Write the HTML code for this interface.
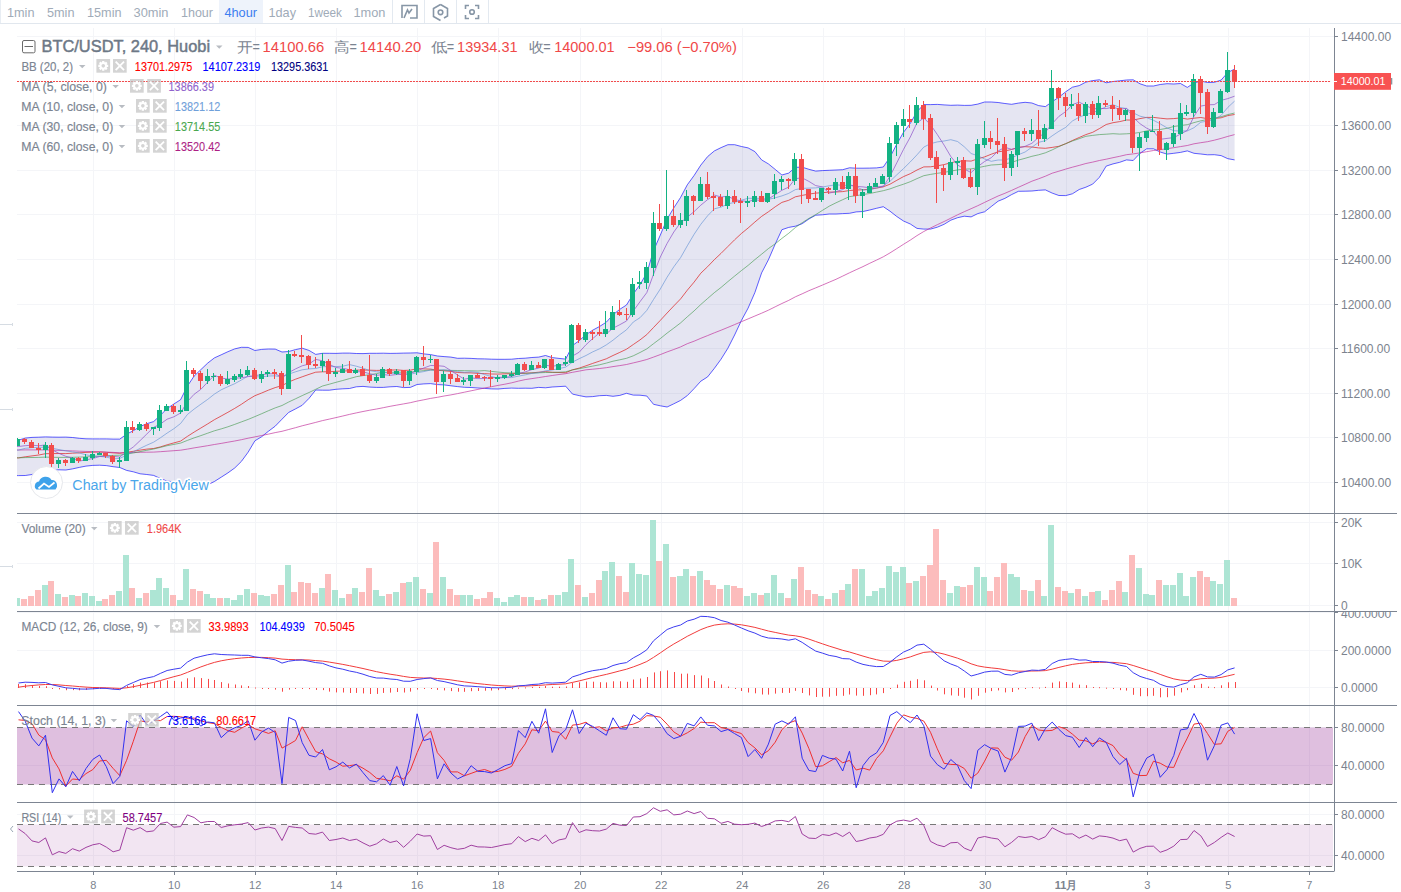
<!DOCTYPE html><html><head><meta charset="utf-8"><style>
html,body{margin:0;padding:0;background:#fff;width:1401px;height:892px;overflow:hidden}
svg{position:absolute;left:0;top:0}
text{font-family:"Liberation Sans",sans-serif}
</style></head><body>
<svg width="1401" height="892" viewBox="0 0 1401 892" shape-rendering="auto">

<rect x="219" y="0" width="44" height="23" fill="#eef3fb"/>
<line x1="0" y1="23.5" x2="1401" y2="23.5" stroke="#e1e7ee" stroke-width="1"/>
<line x1="0.5" y1="0" x2="0.5" y2="23" stroke="#e8edf3" stroke-width="1"/>
<text x="7.00" y="17" font-size="13" fill="#a0abb8" font-weight="400" textLength="27.50" lengthAdjust="spacingAndGlyphs">1min</text>
<text x="47.00" y="17" font-size="13" fill="#a0abb8" font-weight="400" textLength="27.50" lengthAdjust="spacingAndGlyphs">5min</text>
<text x="87.00" y="17" font-size="13" fill="#a0abb8" font-weight="400" textLength="34.50" lengthAdjust="spacingAndGlyphs">15min</text>
<text x="133.50" y="17" font-size="13" fill="#a0abb8" font-weight="400" textLength="35.00" lengthAdjust="spacingAndGlyphs">30min</text>
<text x="181.00" y="17" font-size="13" fill="#a0abb8" font-weight="400" textLength="32.00" lengthAdjust="spacingAndGlyphs">1hour</text>
<text x="224.40" y="17" font-size="13" fill="#3d7ef0" font-weight="400" textLength="32.60" lengthAdjust="spacingAndGlyphs">4hour</text>
<text x="268.50" y="17" font-size="13" fill="#a0abb8" font-weight="400" textLength="27.50" lengthAdjust="spacingAndGlyphs">1day</text>
<text x="308.00" y="17" font-size="13" fill="#a0abb8" font-weight="400" textLength="34.00" lengthAdjust="spacingAndGlyphs">1week</text>
<text x="353.40" y="17" font-size="13" fill="#a0abb8" font-weight="400" textLength="32.00" lengthAdjust="spacingAndGlyphs">1mon</text>
<line x1="392.5" y1="0" x2="392.5" y2="23" stroke="#e3e9f0"/>
<line x1="424.5" y1="0" x2="424.5" y2="23" stroke="#e3e9f0"/>
<line x1="456.5" y1="0" x2="456.5" y2="23" stroke="#e3e9f0"/>
<line x1="488.5" y1="0" x2="488.5" y2="23" stroke="#e3e9f0"/>
<path d="M402 18 V5.5 H417 V18 H410" fill="none" stroke="#8796a6" stroke-width="1.6"/>
<path d="M404 18 L407.5 10 L409 13 L412 9" fill="none" stroke="#8796a6" stroke-width="1.6"/>
<path d="M440.5 4.5 L447.5 8.5 V16 L444 18 M440.5 20.5 L433.5 16.5 V8.5 L440.5 4.5" fill="none" stroke="#8796a6" stroke-width="1.6"/>
<circle cx="440.5" cy="12.3" r="2.3" fill="none" stroke="#8796a6" stroke-width="1.6"/>
<path d="M465.5 9 V5.5 H469 M475 5.5 H478.5 V9 M478.5 15 V18.5 H475 M469 18.5 H465.5 V15" fill="none" stroke="#8796a6" stroke-width="1.6"/>
<circle cx="472" cy="12" r="2.3" fill="none" stroke="#8796a6" stroke-width="1.6"/>
<g stroke="#f4f5f8" stroke-width="1">
<line x1="93.5" y1="28" x2="93.5" y2="871"/>
<line x1="174.5" y1="28" x2="174.5" y2="871"/>
<line x1="255.5" y1="28" x2="255.5" y2="871"/>
<line x1="336.5" y1="28" x2="336.5" y2="871"/>
<line x1="417.5" y1="28" x2="417.5" y2="871"/>
<line x1="498.5" y1="28" x2="498.5" y2="871"/>
<line x1="580.5" y1="28" x2="580.5" y2="871"/>
<line x1="661.5" y1="28" x2="661.5" y2="871"/>
<line x1="742.5" y1="28" x2="742.5" y2="871"/>
<line x1="823.5" y1="28" x2="823.5" y2="871"/>
<line x1="904.5" y1="28" x2="904.5" y2="871"/>
<line x1="985.5" y1="28" x2="985.5" y2="871"/>
<line x1="1066.5" y1="28" x2="1066.5" y2="871"/>
<line x1="1147.5" y1="28" x2="1147.5" y2="871"/>
<line x1="1228.5" y1="28" x2="1228.5" y2="871"/>
<line x1="1309.5" y1="28" x2="1309.5" y2="871"/>
<line x1="17" y1="482.5" x2="1334" y2="482.5"/>
<line x1="17" y1="437.5" x2="1334" y2="437.5"/>
<line x1="17" y1="393.5" x2="1334" y2="393.5"/>
<line x1="17" y1="348.5" x2="1334" y2="348.5"/>
<line x1="17" y1="304.5" x2="1334" y2="304.5"/>
<line x1="17" y1="259.5" x2="1334" y2="259.5"/>
<line x1="17" y1="214.5" x2="1334" y2="214.5"/>
<line x1="17" y1="170.5" x2="1334" y2="170.5"/>
<line x1="17" y1="125.5" x2="1334" y2="125.5"/>
<line x1="17" y1="81.5" x2="1334" y2="81.5"/>
<line x1="17" y1="36.5" x2="1334" y2="36.5"/>
<line x1="17" y1="522.5" x2="1334" y2="522.5"/>
<line x1="17" y1="563.5" x2="1334" y2="563.5"/>
<line x1="17" y1="605.5" x2="1334" y2="605.5"/>
<line x1="17" y1="612.5" x2="1334" y2="612.5"/>
<line x1="17" y1="650.5" x2="1334" y2="650.5"/>
<line x1="17" y1="687.5" x2="1334" y2="687.5"/>
<line x1="17" y1="727.5" x2="1334" y2="727.5"/>
<line x1="17" y1="765.5" x2="1334" y2="765.5"/>
<line x1="17" y1="814.5" x2="1334" y2="814.5"/>
<line x1="17" y1="855.5" x2="1334" y2="855.5"/>
</g>
<defs><clipPath id="cp"><rect x="17" y="28" width="1317" height="843"/></clipPath></defs>
<g clip-path="url(#cp)">
<polygon points="17.0,440.2 18.5,440.2 25.2,438.1 32.0,437.4 38.8,437.2 45.5,436.9 52.3,437.1 59.0,437.2 65.8,437.1 72.5,437.5 79.3,438.3 86.0,438.8 92.8,438.9 99.6,438.9 106.3,438.9 113.1,439.1 119.8,439.1 126.6,434.2 133.3,430.7 140.1,426.5 146.8,423.7 153.6,421.6 160.4,415.3 167.1,408.5 173.9,404.0 180.6,399.7 187.4,386.1 194.1,376.1 200.9,369.6 207.7,363.1 214.4,357.9 221.2,354.8 227.9,351.7 234.7,348.9 241.4,347.3 248.2,347.4 254.9,350.5 261.7,349.4 268.5,349.0 275.2,349.1 282.0,352.0 288.7,351.5 295.5,349.6 302.2,348.2 309.0,350.4 315.7,354.4 322.5,353.3 329.3,353.3 336.0,353.4 342.8,353.1 349.5,353.1 356.3,353.5 363.0,353.6 369.8,353.3 376.6,353.3 383.3,353.2 390.1,353.4 396.8,353.3 403.6,353.1 410.3,353.0 417.1,352.8 423.8,353.9 430.6,354.6 437.4,356.0 444.1,356.6 450.9,357.1 457.6,358.3 464.4,358.2 471.1,358.4 477.9,358.8 484.6,358.9 491.4,359.2 498.2,359.3 504.9,359.3 511.7,359.2 518.4,358.5 525.2,358.2 531.9,357.5 538.7,357.1 545.5,355.5 552.2,357.6 559.0,358.4 565.7,359.1 572.5,345.5 579.2,340.7 586.0,334.7 592.7,330.2 599.5,326.5 606.3,322.2 613.0,314.8 619.8,309.3 626.5,305.0 633.3,293.9 640.0,284.6 646.8,273.1 653.5,250.7 660.3,235.1 667.1,219.0 673.8,207.9 680.6,197.4 687.3,184.8 694.1,175.5 700.8,165.1 707.6,156.6 714.4,150.9 721.1,147.6 727.9,144.7 734.6,144.7 741.4,146.5 748.1,147.9 754.9,151.6 761.6,159.9 768.4,163.9 775.2,169.4 781.9,175.0 788.7,173.1 795.4,167.3 802.2,167.2 808.9,169.3 815.7,171.1 822.4,170.6 829.2,170.3 836.0,170.0 842.7,169.7 849.5,167.8 856.2,168.2 863.0,168.2 869.7,168.1 876.5,167.9 883.3,167.0 890.0,157.1 896.8,144.1 903.5,132.3 910.3,123.4 917.0,111.6 923.8,104.6 930.5,104.6 937.3,104.4 944.1,104.9 950.8,105.3 957.6,105.1 964.3,105.4 971.1,105.3 977.8,104.1 984.6,102.0 991.3,102.0 998.1,102.5 1004.9,103.5 1011.6,104.3 1018.4,103.1 1025.1,102.3 1031.9,103.0 1038.6,105.6 1045.4,106.6 1052.2,101.7 1058.9,97.2 1065.7,91.8 1072.4,87.2 1079.2,85.6 1085.9,82.1 1092.7,80.6 1099.4,79.8 1106.2,82.8 1113.0,81.5 1119.7,80.8 1126.5,80.0 1133.2,79.8 1140.0,83.8 1146.7,86.0 1153.5,86.0 1160.2,84.5 1167.0,83.7 1173.8,84.0 1180.5,83.5 1187.3,87.4 1194.0,83.0 1200.8,81.0 1207.5,82.5 1214.3,82.3 1221.1,80.1 1227.8,72.5 1234.6,69.1 1234.6,159.9 1227.8,158.7 1221.1,155.6 1214.3,154.7 1207.5,154.8 1200.8,154.0 1194.0,153.3 1187.3,150.9 1180.5,152.4 1173.8,153.3 1167.0,154.1 1160.2,152.0 1153.5,148.8 1146.7,148.8 1140.0,153.3 1133.2,160.5 1126.5,159.9 1119.7,162.3 1113.0,163.9 1106.2,166.1 1099.4,177.3 1092.7,184.1 1085.9,187.2 1079.2,189.5 1072.4,193.8 1065.7,195.6 1058.9,195.5 1052.2,193.1 1045.4,189.9 1038.6,190.3 1031.9,191.0 1025.1,191.2 1018.4,191.3 1011.6,194.6 1004.9,198.4 998.1,201.2 991.3,206.5 984.6,211.8 977.8,213.6 971.1,216.9 964.3,216.2 957.6,217.7 950.8,220.2 944.1,224.3 937.3,227.2 930.5,229.1 923.8,229.1 917.0,228.4 910.3,224.0 903.5,221.0 896.8,216.5 890.0,211.2 883.3,206.7 876.5,208.3 869.7,210.0 863.0,211.5 856.2,211.9 849.5,213.3 842.7,213.6 836.0,214.0 829.2,214.0 822.4,214.8 815.7,215.2 808.9,219.0 802.2,223.7 795.4,226.2 788.7,227.4 781.9,229.7 775.2,244.1 768.4,259.8 761.6,272.9 754.9,292.5 748.1,308.1 741.4,320.5 734.6,335.0 727.9,348.2 721.1,359.1 714.4,368.3 707.6,376.9 700.8,381.2 694.1,388.6 687.3,395.6 680.6,400.4 673.8,403.8 667.1,407.0 660.3,405.8 653.5,404.3 646.8,396.0 640.0,395.2 633.3,395.1 626.5,393.3 619.8,395.4 613.0,396.3 606.3,395.4 599.5,395.7 592.7,396.6 586.0,396.9 579.2,395.6 572.5,394.1 565.7,386.2 559.0,386.6 552.2,387.0 545.5,387.8 538.7,387.4 531.9,388.3 525.2,388.2 518.4,388.3 511.7,388.1 504.9,388.4 498.2,389.0 491.4,388.9 484.6,388.4 477.9,388.0 471.1,387.5 464.4,387.3 457.6,386.6 450.9,385.8 444.1,384.9 437.4,384.6 430.6,383.6 423.8,383.9 417.1,384.5 410.3,387.4 403.6,387.6 396.8,386.5 390.1,386.8 383.3,387.4 376.6,387.4 369.8,387.1 363.0,386.4 356.3,386.8 349.5,388.5 342.8,388.8 336.0,389.3 329.3,390.2 322.5,390.2 315.7,390.0 309.0,398.4 302.2,405.3 295.5,408.9 288.7,412.4 282.0,419.2 275.2,426.2 268.5,431.2 261.7,436.7 254.9,440.8 248.2,452.1 241.4,461.4 234.7,468.0 227.9,472.9 221.2,477.2 214.4,481.5 207.7,484.8 200.9,486.4 194.1,488.2 187.4,486.8 180.6,482.5 173.9,481.8 167.1,481.1 160.4,478.5 153.6,475.4 146.8,474.5 140.1,473.8 133.3,471.8 126.6,470.4 119.8,467.5 113.1,466.7 106.3,465.6 99.6,465.2 92.8,465.4 86.0,466.1 79.3,467.4 72.5,468.9 65.8,470.0 59.0,469.8 52.3,470.2 45.5,470.6 38.8,472.8 32.0,474.5 25.2,475.5 18.5,475.6 17.0,475.6" fill="rgba(0,0,128,0.1)" stroke="none"/>
<polyline points="17.0,440.2 18.5,440.2 25.2,438.1 32.0,437.4 38.8,437.2 45.5,436.9 52.3,437.1 59.0,437.2 65.8,437.1 72.5,437.5 79.3,438.3 86.0,438.8 92.8,438.9 99.6,438.9 106.3,438.9 113.1,439.1 119.8,439.1 126.6,434.2 133.3,430.7 140.1,426.5 146.8,423.7 153.6,421.6 160.4,415.3 167.1,408.5 173.9,404.0 180.6,399.7 187.4,386.1 194.1,376.1 200.9,369.6 207.7,363.1 214.4,357.9 221.2,354.8 227.9,351.7 234.7,348.9 241.4,347.3 248.2,347.4 254.9,350.5 261.7,349.4 268.5,349.0 275.2,349.1 282.0,352.0 288.7,351.5 295.5,349.6 302.2,348.2 309.0,350.4 315.7,354.4 322.5,353.3 329.3,353.3 336.0,353.4 342.8,353.1 349.5,353.1 356.3,353.5 363.0,353.6 369.8,353.3 376.6,353.3 383.3,353.2 390.1,353.4 396.8,353.3 403.6,353.1 410.3,353.0 417.1,352.8 423.8,353.9 430.6,354.6 437.4,356.0 444.1,356.6 450.9,357.1 457.6,358.3 464.4,358.2 471.1,358.4 477.9,358.8 484.6,358.9 491.4,359.2 498.2,359.3 504.9,359.3 511.7,359.2 518.4,358.5 525.2,358.2 531.9,357.5 538.7,357.1 545.5,355.5 552.2,357.6 559.0,358.4 565.7,359.1 572.5,345.5 579.2,340.7 586.0,334.7 592.7,330.2 599.5,326.5 606.3,322.2 613.0,314.8 619.8,309.3 626.5,305.0 633.3,293.9 640.0,284.6 646.8,273.1 653.5,250.7 660.3,235.1 667.1,219.0 673.8,207.9 680.6,197.4 687.3,184.8 694.1,175.5 700.8,165.1 707.6,156.6 714.4,150.9 721.1,147.6 727.9,144.7 734.6,144.7 741.4,146.5 748.1,147.9 754.9,151.6 761.6,159.9 768.4,163.9 775.2,169.4 781.9,175.0 788.7,173.1 795.4,167.3 802.2,167.2 808.9,169.3 815.7,171.1 822.4,170.6 829.2,170.3 836.0,170.0 842.7,169.7 849.5,167.8 856.2,168.2 863.0,168.2 869.7,168.1 876.5,167.9 883.3,167.0 890.0,157.1 896.8,144.1 903.5,132.3 910.3,123.4 917.0,111.6 923.8,104.6 930.5,104.6 937.3,104.4 944.1,104.9 950.8,105.3 957.6,105.1 964.3,105.4 971.1,105.3 977.8,104.1 984.6,102.0 991.3,102.0 998.1,102.5 1004.9,103.5 1011.6,104.3 1018.4,103.1 1025.1,102.3 1031.9,103.0 1038.6,105.6 1045.4,106.6 1052.2,101.7 1058.9,97.2 1065.7,91.8 1072.4,87.2 1079.2,85.6 1085.9,82.1 1092.7,80.6 1099.4,79.8 1106.2,82.8 1113.0,81.5 1119.7,80.8 1126.5,80.0 1133.2,79.8 1140.0,83.8 1146.7,86.0 1153.5,86.0 1160.2,84.5 1167.0,83.7 1173.8,84.0 1180.5,83.5 1187.3,87.4 1194.0,83.0 1200.8,81.0 1207.5,82.5 1214.3,82.3 1221.1,80.1 1227.8,72.5 1234.6,69.1" fill="none" stroke="rgba(0,0,255,0.62)" stroke-width="1" stroke-linejoin="round" />
<polyline points="17.0,475.6 18.5,475.6 25.2,475.5 32.0,474.5 38.8,472.8 45.5,470.6 52.3,470.2 59.0,469.8 65.8,470.0 72.5,468.9 79.3,467.4 86.0,466.1 92.8,465.4 99.6,465.2 106.3,465.6 113.1,466.7 119.8,467.5 126.6,470.4 133.3,471.8 140.1,473.8 146.8,474.5 153.6,475.4 160.4,478.5 167.1,481.1 173.9,481.8 180.6,482.5 187.4,486.8 194.1,488.2 200.9,486.4 207.7,484.8 214.4,481.5 221.2,477.2 227.9,472.9 234.7,468.0 241.4,461.4 248.2,452.1 254.9,440.8 261.7,436.7 268.5,431.2 275.2,426.2 282.0,419.2 288.7,412.4 295.5,408.9 302.2,405.3 309.0,398.4 315.7,390.0 322.5,390.2 329.3,390.2 336.0,389.3 342.8,388.8 349.5,388.5 356.3,386.8 363.0,386.4 369.8,387.1 376.6,387.4 383.3,387.4 390.1,386.8 396.8,386.5 403.6,387.6 410.3,387.4 417.1,384.5 423.8,383.9 430.6,383.6 437.4,384.6 444.1,384.9 450.9,385.8 457.6,386.6 464.4,387.3 471.1,387.5 477.9,388.0 484.6,388.4 491.4,388.9 498.2,389.0 504.9,388.4 511.7,388.1 518.4,388.3 525.2,388.2 531.9,388.3 538.7,387.4 545.5,387.8 552.2,387.0 559.0,386.6 565.7,386.2 572.5,394.1 579.2,395.6 586.0,396.9 592.7,396.6 599.5,395.7 606.3,395.4 613.0,396.3 619.8,395.4 626.5,393.3 633.3,395.1 640.0,395.2 646.8,396.0 653.5,404.3 660.3,405.8 667.1,407.0 673.8,403.8 680.6,400.4 687.3,395.6 694.1,388.6 700.8,381.2 707.6,376.9 714.4,368.3 721.1,359.1 727.9,348.2 734.6,335.0 741.4,320.5 748.1,308.1 754.9,292.5 761.6,272.9 768.4,259.8 775.2,244.1 781.9,229.7 788.7,227.4 795.4,226.2 802.2,223.7 808.9,219.0 815.7,215.2 822.4,214.8 829.2,214.0 836.0,214.0 842.7,213.6 849.5,213.3 856.2,211.9 863.0,211.5 869.7,210.0 876.5,208.3 883.3,206.7 890.0,211.2 896.8,216.5 903.5,221.0 910.3,224.0 917.0,228.4 923.8,229.1 930.5,229.1 937.3,227.2 944.1,224.3 950.8,220.2 957.6,217.7 964.3,216.2 971.1,216.9 977.8,213.6 984.6,211.8 991.3,206.5 998.1,201.2 1004.9,198.4 1011.6,194.6 1018.4,191.3 1025.1,191.2 1031.9,191.0 1038.6,190.3 1045.4,189.9 1052.2,193.1 1058.9,195.5 1065.7,195.6 1072.4,193.8 1079.2,189.5 1085.9,187.2 1092.7,184.1 1099.4,177.3 1106.2,166.1 1113.0,163.9 1119.7,162.3 1126.5,159.9 1133.2,160.5 1140.0,153.3 1146.7,148.8 1153.5,148.8 1160.2,152.0 1167.0,154.1 1173.8,153.3 1180.5,152.4 1187.3,150.9 1194.0,153.3 1200.8,154.0 1207.5,154.8 1214.3,154.7 1221.1,155.6 1227.8,158.7 1234.6,159.9" fill="none" stroke="rgba(0,0,255,0.62)" stroke-width="1" stroke-linejoin="round" />
<polyline points="17.0,457.9 18.5,457.9 25.2,456.8 32.0,455.9 38.8,455.0 45.5,453.7 52.3,453.6 59.0,453.5 65.8,453.6 72.5,453.2 79.3,452.8 86.0,452.4 92.8,452.2 99.6,452.0 106.3,452.3 113.1,452.9 119.8,453.3 126.6,452.3 133.3,451.3 140.1,450.1 146.8,449.1 153.6,448.5 160.4,446.9 167.1,444.8 173.9,442.9 180.6,441.1 187.4,436.4 194.1,432.1 200.9,428.0 207.7,423.9 214.4,419.7 221.2,416.0 227.9,412.3 234.7,408.4 241.4,404.3 248.2,399.7 254.9,395.7 261.7,393.0 268.5,390.1 275.2,387.6 282.0,385.6 288.7,382.0 295.5,379.2 302.2,376.8 309.0,374.4 315.7,372.2 322.5,371.8 329.3,371.8 336.0,371.3 342.8,371.0 349.5,370.8 356.3,370.1 363.0,370.0 369.8,370.2 376.6,370.4 383.3,370.3 390.1,370.1 396.8,369.9 403.6,370.4 410.3,370.2 417.1,368.6 423.8,368.9 430.6,369.1 437.4,370.3 444.1,370.8 450.9,371.4 457.6,372.5 464.4,372.8 471.1,372.9 477.9,373.4 484.6,373.6 491.4,374.0 498.2,374.1 504.9,373.8 511.7,373.7 518.4,373.4 525.2,373.2 531.9,372.9 538.7,372.2 545.5,371.6 552.2,372.3 559.0,372.5 565.7,372.7 572.5,369.8 579.2,368.1 586.0,365.8 592.7,363.4 599.5,361.1 606.3,358.8 613.0,355.5 619.8,352.4 626.5,349.2 633.3,344.5 640.0,339.9 646.8,334.6 653.5,327.5 660.3,320.4 667.1,313.0 673.8,305.9 680.6,298.9 687.3,290.2 694.1,282.1 700.8,273.2 707.6,266.7 714.4,259.6 721.1,253.3 727.9,246.5 734.6,239.8 741.4,233.5 748.1,228.0 754.9,222.0 761.6,216.4 768.4,211.8 775.2,206.8 781.9,202.4 788.7,200.3 795.4,196.8 802.2,195.4 808.9,194.1 815.7,193.1 822.4,192.7 829.2,192.1 836.0,192.0 842.7,191.6 849.5,190.5 856.2,190.0 863.0,189.8 869.7,189.1 876.5,188.1 883.3,186.8 890.0,184.2 896.8,180.3 903.5,176.6 910.3,173.7 917.0,170.0 923.8,166.9 930.5,166.8 937.3,165.8 944.1,164.6 950.8,162.7 957.6,161.4 964.3,160.8 971.1,161.1 977.8,158.8 984.6,156.9 991.3,154.2 998.1,151.8 1004.9,150.9 1011.6,149.5 1018.4,147.2 1025.1,146.7 1031.9,147.0 1038.6,147.9 1045.4,148.3 1052.2,147.4 1058.9,146.3 1065.7,143.7 1072.4,140.5 1079.2,137.5 1085.9,134.6 1092.7,132.3 1099.4,128.6 1106.2,124.5 1113.0,122.7 1119.7,121.6 1126.5,120.0 1133.2,120.1 1140.0,118.6 1146.7,117.4 1153.5,117.4 1160.2,118.2 1167.0,118.9 1173.8,118.6 1180.5,117.9 1187.3,119.1 1194.0,118.2 1200.8,117.5 1207.5,118.7 1214.3,118.5 1221.1,117.8 1227.8,115.6 1234.6,114.5" fill="none" stroke="rgba(220,30,30,0.7)" stroke-width="1" stroke-linejoin="round" />
<polyline points="17.0,450.0 18.5,450.0 25.2,449.9 32.0,449.9 38.8,449.9 45.5,449.9 52.3,450.2 59.0,450.4 65.8,450.7 72.5,450.9 79.3,451.2 86.0,451.4 92.8,451.6 99.6,451.8 106.3,452.1 113.1,452.4 119.8,452.8 126.6,452.6 133.3,452.5 140.1,452.3 146.8,452.2 153.6,452.1 160.4,451.7 167.1,451.2 173.9,450.7 180.6,450.2 187.4,449.1 194.1,447.9 200.9,446.8 207.7,445.7 214.4,444.5 221.2,443.4 227.9,442.2 234.7,441.0 241.4,439.7 248.2,438.2 254.9,436.9 261.7,435.5 268.5,434.1 275.2,432.6 282.0,431.3 288.7,429.5 295.5,427.7 302.2,425.8 309.0,424.1 315.7,422.4 322.5,420.6 329.3,419.1 336.0,417.6 342.8,416.0 349.5,414.4 356.3,412.9 363.0,411.5 369.8,410.2 376.6,409.0 383.3,407.7 390.1,406.3 396.8,405.1 403.6,403.9 410.3,402.7 417.1,401.1 423.8,399.8 430.6,398.4 437.4,397.3 444.1,396.0 450.9,394.9 457.6,393.6 464.4,392.2 471.1,390.8 477.9,389.4 484.6,388.0 491.4,386.7 498.2,385.4 504.9,384.2 511.7,382.8 518.4,381.1 525.2,379.6 531.9,378.6 538.7,377.6 545.5,376.5 552.2,375.5 559.0,374.5 565.7,373.7 572.5,372.3 579.2,371.1 586.0,369.8 592.7,369.2 599.5,368.5 606.3,367.7 613.0,366.6 619.8,365.6 626.5,364.5 633.3,362.9 640.0,361.3 646.8,359.5 653.5,357.1 660.3,354.6 667.1,351.9 673.8,349.5 680.6,346.9 687.3,343.7 694.1,341.2 700.8,338.3 707.6,335.6 714.4,332.8 721.1,330.2 727.9,327.4 734.6,324.6 741.4,321.7 748.1,318.9 754.9,316.0 761.6,313.2 768.4,310.2 775.2,306.8 781.9,303.5 788.7,300.4 795.4,296.8 802.2,293.8 808.9,290.7 815.7,287.9 822.4,285.1 829.2,282.2 836.0,279.3 842.7,276.1 849.5,272.8 856.2,269.7 863.0,266.6 869.7,263.3 876.5,260.1 883.3,256.8 890.0,252.9 896.8,248.6 903.5,244.3 910.3,240.1 917.0,235.6 923.8,231.5 930.5,228.0 937.3,224.7 944.1,221.5 950.8,218.2 957.6,214.8 964.3,211.7 971.1,208.7 977.8,205.7 984.6,202.4 991.3,199.2 998.1,196.0 1004.9,193.3 1011.6,190.4 1018.4,187.3 1025.1,184.3 1031.9,181.2 1038.6,178.8 1045.4,176.2 1052.2,173.2 1058.9,171.2 1065.7,169.1 1072.4,167.2 1079.2,165.4 1085.9,163.5 1092.7,162.1 1099.4,160.5 1106.2,159.2 1113.0,157.7 1119.7,156.3 1126.5,154.7 1133.2,153.9 1140.0,152.9 1146.7,151.7 1153.5,150.5 1160.2,149.7 1167.0,148.7 1173.8,147.7 1180.5,146.6 1187.3,145.5 1194.0,143.8 1200.8,142.7 1207.5,141.7 1214.3,140.2 1221.1,138.4 1227.8,136.4 1234.6,134.6" fill="none" stroke="rgba(190,40,150,0.65)" stroke-width="1" stroke-linejoin="round" />
<polyline points="17.0,457.8 18.5,457.8 25.2,457.6 32.0,457.5 38.8,457.4 45.5,457.1 52.3,457.3 59.0,457.4 65.8,457.4 72.5,457.3 79.3,457.1 86.0,456.9 92.8,456.5 99.6,456.1 106.3,455.7 113.1,455.4 119.8,455.2 126.6,454.0 133.3,453.0 140.1,451.6 146.8,450.3 153.6,449.0 160.4,447.4 167.1,445.7 173.9,444.4 180.6,443.1 187.4,440.4 194.1,437.9 200.9,435.6 207.7,433.2 214.4,430.8 221.2,428.9 227.9,426.8 234.7,424.4 241.4,421.9 248.2,419.4 254.9,416.6 261.7,413.7 268.5,410.7 275.2,407.9 282.0,405.5 288.7,402.0 295.5,398.8 302.2,395.6 309.0,392.5 315.7,389.3 322.5,386.0 329.3,384.2 336.0,382.3 342.8,380.5 349.5,378.6 356.3,376.7 363.0,375.6 369.8,374.7 376.6,373.6 383.3,372.2 390.1,372.3 396.8,372.2 403.6,372.2 410.3,372.1 417.1,371.4 423.8,370.6 430.6,370.0 437.4,370.2 444.1,370.2 450.9,370.4 457.6,370.5 464.4,370.7 471.1,370.8 477.9,371.0 484.6,370.6 491.4,371.4 498.2,372.1 504.9,372.7 511.7,373.0 518.4,373.0 525.2,373.3 531.9,373.0 538.7,372.8 545.5,372.5 552.2,372.4 559.0,372.2 565.7,371.8 572.5,369.9 579.2,368.7 586.0,367.4 592.7,366.1 599.5,364.8 606.3,363.1 613.0,361.2 619.8,359.8 626.5,358.3 633.3,355.8 640.0,352.5 646.8,348.9 653.5,343.7 660.3,338.6 667.1,333.1 673.8,328.1 680.6,322.9 687.3,316.8 694.1,310.9 700.8,304.5 707.6,298.5 714.4,292.6 721.1,287.4 727.9,281.6 734.6,276.1 741.4,270.6 748.1,265.4 754.9,259.6 761.6,254.2 768.4,248.6 775.2,243.8 781.9,238.4 788.7,233.3 795.4,227.5 802.2,222.7 808.9,218.4 815.7,214.6 822.4,210.4 829.2,206.2 836.0,202.8 842.7,199.7 849.5,196.6 856.2,195.7 863.0,194.5 869.7,193.5 876.5,192.1 883.3,190.7 890.0,188.9 896.8,186.4 903.5,184.2 910.3,181.7 917.0,178.6 923.8,175.7 930.5,174.4 937.3,173.3 944.1,172.4 950.8,171.1 957.6,169.9 964.3,169.1 971.1,168.9 977.8,167.7 984.6,166.3 991.3,165.0 998.1,164.6 1004.9,163.9 1011.6,162.4 1018.4,160.1 1025.1,158.3 1031.9,156.3 1038.6,154.8 1045.4,152.8 1052.2,149.9 1058.9,146.6 1065.7,143.7 1072.4,141.0 1079.2,138.7 1085.9,136.3 1092.7,135.4 1099.4,134.6 1106.2,134.2 1113.0,133.7 1119.7,134.1 1126.5,133.8 1133.2,133.4 1140.0,132.4 1146.7,130.9 1153.5,129.9 1160.2,129.5 1167.0,128.3 1173.8,126.5 1180.5,125.5 1187.3,124.7 1194.0,122.6 1200.8,120.8 1207.5,119.5 1214.3,118.1 1221.1,116.7 1227.8,114.6 1234.6,113.0" fill="none" stroke="rgba(60,150,70,0.6)" stroke-width="1" stroke-linejoin="round" />
<polyline points="17.0,450.1 18.5,450.1 25.2,448.3 32.0,447.7 38.8,447.4 45.5,447.1 52.3,448.2 59.0,449.6 65.8,450.8 72.5,451.9 79.3,453.0 86.0,454.8 92.8,456.0 99.6,456.4 106.3,457.1 113.1,458.8 119.8,458.4 126.6,455.1 133.3,451.8 140.1,448.4 146.8,445.2 153.6,442.2 160.4,437.8 167.1,433.1 173.9,428.7 180.6,423.5 187.4,414.5 194.1,409.1 200.9,404.2 207.7,399.4 214.4,394.1 221.2,389.8 227.9,386.7 234.7,383.7 241.4,380.0 248.2,376.0 254.9,376.8 261.7,376.9 268.5,376.0 275.2,375.8 282.0,377.1 288.7,374.1 295.5,371.8 302.2,369.8 309.0,368.9 315.7,368.5 322.5,366.7 329.3,366.6 336.0,366.6 342.8,366.2 349.5,364.6 356.3,366.2 363.0,368.2 369.8,370.6 376.6,371.8 383.3,372.2 390.1,373.4 396.8,373.2 403.6,374.1 410.3,374.3 417.1,372.7 423.8,371.6 430.6,370.0 437.4,370.1 444.1,369.8 450.9,370.7 457.6,371.5 464.4,372.4 471.1,371.8 477.9,372.5 484.6,374.6 491.4,376.5 498.2,378.2 504.9,377.6 511.7,377.6 518.4,376.1 525.2,374.9 531.9,373.4 538.7,372.7 545.5,370.8 552.2,370.0 559.0,368.6 565.7,367.1 572.5,362.1 579.2,358.7 586.0,355.5 592.7,351.9 599.5,348.8 606.3,344.9 613.0,340.2 619.8,334.7 626.5,329.8 633.3,322.0 640.0,317.7 646.8,310.4 653.5,299.5 660.3,289.0 667.1,277.2 673.8,266.8 680.6,257.6 687.3,245.8 694.1,234.3 700.8,224.3 707.6,215.8 714.4,208.8 721.1,207.1 727.9,203.9 734.6,202.4 741.4,200.2 748.1,198.3 754.9,198.3 761.6,198.4 768.4,199.4 775.2,197.8 781.9,195.9 788.7,193.4 795.4,189.6 802.2,188.4 808.9,188.1 815.7,187.9 822.4,187.0 829.2,185.8 836.0,184.7 842.7,185.5 849.5,185.2 856.2,186.7 863.0,190.0 869.7,189.7 876.5,188.1 883.3,185.8 890.0,181.3 896.8,174.8 903.5,168.6 910.3,161.9 917.0,154.8 923.8,147.1 930.5,143.7 937.3,141.9 944.1,141.0 950.8,139.7 957.6,141.5 964.3,146.8 971.1,153.5 977.8,155.8 984.6,159.0 991.3,161.3 998.1,160.0 1004.9,160.0 1011.6,157.9 1018.4,154.7 1025.1,152.0 1031.9,147.2 1038.6,142.3 1045.4,140.7 1052.2,135.8 1058.9,131.3 1065.7,127.4 1072.4,121.0 1079.2,117.2 1085.9,114.5 1092.7,112.6 1099.4,110.0 1106.2,106.6 1113.0,104.7 1119.7,107.4 1126.5,108.6 1133.2,112.8 1140.0,116.2 1146.7,117.7 1153.5,120.3 1160.2,123.8 1167.0,127.9 1173.8,130.7 1180.5,131.1 1187.3,130.9 1194.0,127.7 1200.8,122.2 1207.5,121.2 1214.3,119.3 1221.1,115.4 1227.8,107.4 1234.6,101.1" fill="none" stroke="rgba(90,140,210,0.6)" stroke-width="1" stroke-linejoin="round" />
<polyline points="17.0,446.5 18.5,446.5 25.2,445.7 32.0,445.2 38.8,445.8 45.5,444.9 52.3,449.9 59.0,453.4 65.8,456.3 72.5,457.9 79.3,461.1 86.0,459.8 92.8,458.5 99.6,456.5 106.3,456.2 113.1,456.4 119.8,457.0 126.6,451.6 133.3,447.0 140.1,440.6 146.8,434.0 153.6,427.4 160.4,424.0 167.1,419.2 173.9,416.8 180.6,413.0 187.4,401.6 194.1,394.3 200.9,389.3 207.7,382.1 214.4,375.3 221.2,378.0 227.9,379.1 234.7,378.2 241.4,377.8 248.2,376.6 254.9,375.6 261.7,374.7 268.5,373.8 275.2,373.7 282.0,377.5 288.7,372.6 295.5,368.9 302.2,365.8 309.0,364.0 315.7,359.4 322.5,360.8 329.3,364.4 336.0,367.5 342.8,368.3 349.5,369.7 356.3,371.6 363.0,371.9 369.8,373.7 376.6,375.3 383.3,374.6 390.1,375.3 396.8,374.5 403.6,374.5 410.3,373.3 417.1,370.8 423.8,368.0 430.6,365.5 437.4,365.7 444.1,366.3 450.9,370.6 457.6,375.0 464.4,379.2 471.1,377.9 477.9,378.6 484.6,378.5 491.4,377.9 498.2,377.3 504.9,377.3 511.7,376.5 518.4,373.7 525.2,371.9 531.9,369.6 538.7,368.1 545.5,365.2 552.2,366.3 559.0,365.2 565.7,364.6 572.5,356.0 579.2,352.2 586.0,344.7 592.7,338.6 599.5,332.9 606.3,333.8 613.0,328.2 619.8,324.7 626.5,321.0 633.3,311.0 640.0,301.7 646.8,292.6 653.5,274.3 660.3,257.0 667.1,243.4 673.8,232.0 680.6,222.6 687.3,217.2 694.1,211.6 700.8,205.2 707.6,199.6 714.4,195.1 721.1,197.0 727.9,196.2 734.6,199.7 741.4,200.8 748.1,201.5 754.9,199.7 761.6,200.7 768.4,199.0 775.2,194.7 781.9,190.3 788.7,187.1 795.4,178.6 802.2,177.9 808.9,181.4 815.7,185.6 822.4,186.9 829.2,193.1 836.0,191.6 842.7,189.6 849.5,184.8 856.2,186.4 863.0,186.9 869.7,187.8 876.5,186.7 883.3,186.7 890.0,176.2 896.8,162.8 903.5,149.4 910.3,137.0 917.0,122.8 923.8,118.0 930.5,124.6 937.3,134.5 944.1,145.1 950.8,156.5 957.6,165.0 964.3,169.0 971.1,172.6 977.8,166.5 984.6,161.5 991.3,157.7 998.1,151.0 1004.9,147.3 1011.6,149.3 1018.4,148.0 1025.1,146.3 1031.9,143.3 1038.6,137.4 1045.4,132.2 1052.2,123.6 1058.9,116.4 1065.7,111.6 1072.4,104.6 1079.2,102.2 1085.9,105.5 1092.7,108.9 1099.4,108.4 1106.2,108.6 1113.0,107.1 1119.7,109.3 1126.5,108.3 1133.2,117.3 1140.0,123.7 1146.7,128.2 1153.5,131.4 1160.2,139.3 1167.0,138.4 1173.8,137.6 1180.5,134.1 1187.3,130.4 1194.0,116.2 1200.8,106.1 1207.5,104.8 1214.3,104.6 1221.1,100.4 1227.8,98.6 1234.6,96.2" fill="none" stroke="rgba(140,80,200,0.7)" stroke-width="1" stroke-linejoin="round" />
<rect x="17" y="438.0" width="1" height="8.0" fill="#13b283"/>
<rect x="15" y="439.0" width="5" height="7.0" fill="#13b283"/>
<rect x="24" y="438.0" width="1" height="6.0" fill="#f24c4c"/>
<rect x="22" y="439.0" width="5" height="3.0" fill="#f24c4c"/>
<rect x="31" y="440.0" width="1" height="8.0" fill="#f24c4c"/>
<rect x="29" y="442.0" width="5" height="6.0" fill="#f24c4c"/>
<rect x="38" y="443.0" width="1" height="11.0" fill="#f24c4c"/>
<rect x="36" y="448.0" width="5" height="2.0" fill="#f24c4c"/>
<rect x="45" y="442.0" width="1" height="16.0" fill="#13b283"/>
<rect x="43" y="445.0" width="5" height="5.0" fill="#13b283"/>
<rect x="51" y="443.0" width="1" height="24.0" fill="#f24c4c"/>
<rect x="49" y="445.0" width="5" height="19.0" fill="#f24c4c"/>
<rect x="58" y="458.0" width="1" height="10.0" fill="#13b283"/>
<rect x="56" y="460.0" width="5" height="4.0" fill="#13b283"/>
<rect x="65" y="459.0" width="1" height="7.0" fill="#f24c4c"/>
<rect x="63" y="460.0" width="5" height="3.0" fill="#f24c4c"/>
<rect x="72" y="457.0" width="1" height="6.0" fill="#13b283"/>
<rect x="70" y="458.0" width="5" height="5.0" fill="#13b283"/>
<rect x="78" y="457.0" width="1" height="6.0" fill="#f24c4c"/>
<rect x="76" y="458.0" width="5" height="3.0" fill="#f24c4c"/>
<rect x="85" y="454.0" width="1" height="7.0" fill="#13b283"/>
<rect x="83" y="457.0" width="5" height="4.0" fill="#13b283"/>
<rect x="92" y="451.0" width="1" height="9.0" fill="#13b283"/>
<rect x="90" y="454.0" width="5" height="4.0" fill="#13b283"/>
<rect x="99" y="452.0" width="1" height="3.0" fill="#13b283"/>
<rect x="97" y="453.0" width="5" height="2.0" fill="#13b283"/>
<rect x="105" y="453.0" width="1" height="5.0" fill="#f24c4c"/>
<rect x="103" y="453.0" width="5" height="3.0" fill="#f24c4c"/>
<rect x="112" y="455.0" width="1" height="9.0" fill="#f24c4c"/>
<rect x="110" y="456.0" width="5" height="6.0" fill="#f24c4c"/>
<rect x="119" y="457.0" width="1" height="11.0" fill="#13b283"/>
<rect x="117" y="460.0" width="5" height="2.0" fill="#13b283"/>
<rect x="126" y="421.0" width="1" height="40.0" fill="#13b283"/>
<rect x="124" y="427.0" width="5" height="34.0" fill="#13b283"/>
<rect x="132" y="421.0" width="1" height="12.0" fill="#f24c4c"/>
<rect x="130" y="427.0" width="5" height="3.0" fill="#f24c4c"/>
<rect x="139" y="422.0" width="1" height="9.0" fill="#13b283"/>
<rect x="137" y="424.0" width="5" height="6.0" fill="#13b283"/>
<rect x="146" y="422.0" width="1" height="9.0" fill="#f24c4c"/>
<rect x="144" y="424.0" width="5" height="5.0" fill="#f24c4c"/>
<rect x="153" y="427.0" width="1" height="8.0" fill="#13b283"/>
<rect x="151" y="427.0" width="5" height="2.0" fill="#13b283"/>
<rect x="159" y="405.0" width="1" height="26.0" fill="#13b283"/>
<rect x="157" y="410.0" width="5" height="18.0" fill="#13b283"/>
<rect x="166" y="404.0" width="1" height="7.0" fill="#13b283"/>
<rect x="164" y="406.0" width="5" height="5.0" fill="#13b283"/>
<rect x="173" y="404.0" width="1" height="10.0" fill="#f24c4c"/>
<rect x="171" y="406.0" width="5" height="6.0" fill="#f24c4c"/>
<rect x="180" y="405.0" width="1" height="9.0" fill="#13b283"/>
<rect x="178" y="410.0" width="5" height="2.0" fill="#13b283"/>
<rect x="186" y="361.0" width="1" height="50.0" fill="#13b283"/>
<rect x="184" y="370.0" width="5" height="41.0" fill="#13b283"/>
<rect x="193" y="368.0" width="1" height="9.0" fill="#f24c4c"/>
<rect x="191" y="370.0" width="5" height="4.0" fill="#f24c4c"/>
<rect x="200" y="371.0" width="1" height="18.0" fill="#f24c4c"/>
<rect x="198" y="373.0" width="5" height="8.0" fill="#f24c4c"/>
<rect x="207" y="369.0" width="1" height="15.0" fill="#13b283"/>
<rect x="205" y="376.0" width="5" height="5.0" fill="#13b283"/>
<rect x="213" y="373.0" width="1" height="8.0" fill="#13b283"/>
<rect x="211" y="376.0" width="5" height="1.0" fill="#13b283"/>
<rect x="220" y="374.0" width="1" height="12.0" fill="#f24c4c"/>
<rect x="218" y="376.0" width="5" height="8.0" fill="#f24c4c"/>
<rect x="227" y="371.0" width="1" height="14.0" fill="#13b283"/>
<rect x="225" y="379.0" width="5" height="5.0" fill="#13b283"/>
<rect x="234" y="374.0" width="1" height="8.0" fill="#13b283"/>
<rect x="232" y="376.0" width="5" height="4.0" fill="#13b283"/>
<rect x="240" y="369.0" width="1" height="10.0" fill="#13b283"/>
<rect x="238" y="374.0" width="5" height="3.0" fill="#13b283"/>
<rect x="247" y="366.0" width="1" height="10.0" fill="#13b283"/>
<rect x="245" y="370.0" width="5" height="5.0" fill="#13b283"/>
<rect x="254" y="368.0" width="1" height="12.0" fill="#f24c4c"/>
<rect x="252" y="370.0" width="5" height="9.0" fill="#f24c4c"/>
<rect x="261" y="371.0" width="1" height="12.0" fill="#13b283"/>
<rect x="259" y="374.0" width="5" height="5.0" fill="#13b283"/>
<rect x="267" y="370.0" width="1" height="7.0" fill="#13b283"/>
<rect x="265" y="372.0" width="5" height="2.0" fill="#13b283"/>
<rect x="274" y="369.0" width="1" height="10.0" fill="#f24c4c"/>
<rect x="272" y="372.0" width="5" height="2.0" fill="#f24c4c"/>
<rect x="281" y="371.0" width="1" height="24.0" fill="#f24c4c"/>
<rect x="279" y="373.0" width="5" height="16.0" fill="#f24c4c"/>
<rect x="288" y="350.0" width="1" height="39.0" fill="#13b283"/>
<rect x="286" y="354.0" width="5" height="35.0" fill="#13b283"/>
<rect x="294" y="351.0" width="1" height="6.0" fill="#f24c4c"/>
<rect x="292" y="354.0" width="5" height="2.0" fill="#f24c4c"/>
<rect x="301" y="335.0" width="1" height="28.0" fill="#f24c4c"/>
<rect x="299" y="355.0" width="5" height="2.0" fill="#f24c4c"/>
<rect x="308" y="355.0" width="1" height="14.0" fill="#f24c4c"/>
<rect x="306" y="356.0" width="5" height="9.0" fill="#f24c4c"/>
<rect x="315" y="357.0" width="1" height="11.0" fill="#f24c4c"/>
<rect x="313" y="364.0" width="5" height="2.0" fill="#f24c4c"/>
<rect x="322" y="353.0" width="1" height="19.0" fill="#13b283"/>
<rect x="320" y="361.0" width="5" height="5.0" fill="#13b283"/>
<rect x="328" y="359.0" width="1" height="22.0" fill="#f24c4c"/>
<rect x="326" y="361.0" width="5" height="13.0" fill="#f24c4c"/>
<rect x="335" y="368.0" width="1" height="9.0" fill="#13b283"/>
<rect x="333" y="372.0" width="5" height="2.0" fill="#13b283"/>
<rect x="342" y="364.0" width="1" height="9.0" fill="#13b283"/>
<rect x="340" y="369.0" width="5" height="4.0" fill="#13b283"/>
<rect x="349" y="361.0" width="1" height="12.0" fill="#f24c4c"/>
<rect x="347" y="369.0" width="5" height="4.0" fill="#f24c4c"/>
<rect x="355" y="368.0" width="1" height="6.0" fill="#13b283"/>
<rect x="353" y="370.0" width="5" height="3.0" fill="#13b283"/>
<rect x="362" y="366.0" width="1" height="10.0" fill="#f24c4c"/>
<rect x="360" y="369.0" width="5" height="7.0" fill="#f24c4c"/>
<rect x="369" y="355.0" width="1" height="28.0" fill="#f24c4c"/>
<rect x="367" y="375.0" width="5" height="6.0" fill="#f24c4c"/>
<rect x="376" y="374.0" width="1" height="9.0" fill="#13b283"/>
<rect x="374" y="377.0" width="5" height="4.0" fill="#13b283"/>
<rect x="382" y="367.0" width="1" height="11.0" fill="#13b283"/>
<rect x="380" y="369.0" width="5" height="9.0" fill="#13b283"/>
<rect x="389" y="368.0" width="1" height="8.0" fill="#f24c4c"/>
<rect x="387" y="369.0" width="5" height="5.0" fill="#f24c4c"/>
<rect x="396" y="369.0" width="1" height="6.0" fill="#13b283"/>
<rect x="394" y="371.0" width="5" height="3.0" fill="#13b283"/>
<rect x="403" y="370.0" width="1" height="17.0" fill="#f24c4c"/>
<rect x="401" y="370.0" width="5" height="11.0" fill="#f24c4c"/>
<rect x="409" y="369.0" width="1" height="16.0" fill="#13b283"/>
<rect x="407" y="371.0" width="5" height="10.0" fill="#13b283"/>
<rect x="416" y="356.0" width="1" height="19.0" fill="#13b283"/>
<rect x="414" y="357.0" width="5" height="15.0" fill="#13b283"/>
<rect x="423" y="346.0" width="1" height="20.0" fill="#f24c4c"/>
<rect x="421" y="357.0" width="5" height="3.0" fill="#f24c4c"/>
<rect x="430" y="355.0" width="1" height="8.0" fill="#13b283"/>
<rect x="428" y="359.0" width="5" height="1.0" fill="#13b283"/>
<rect x="436" y="359.0" width="1" height="35.0" fill="#f24c4c"/>
<rect x="434" y="359.0" width="5" height="23.0" fill="#f24c4c"/>
<rect x="443" y="371.0" width="1" height="21.0" fill="#13b283"/>
<rect x="441" y="374.0" width="5" height="8.0" fill="#13b283"/>
<rect x="450" y="371.0" width="1" height="13.0" fill="#f24c4c"/>
<rect x="448" y="374.0" width="5" height="5.0" fill="#f24c4c"/>
<rect x="457" y="374.0" width="1" height="8.0" fill="#f24c4c"/>
<rect x="455" y="378.0" width="5" height="4.0" fill="#f24c4c"/>
<rect x="463" y="377.0" width="1" height="8.0" fill="#13b283"/>
<rect x="461" y="380.0" width="5" height="2.0" fill="#13b283"/>
<rect x="470" y="375.0" width="1" height="11.0" fill="#13b283"/>
<rect x="468" y="375.0" width="5" height="6.0" fill="#13b283"/>
<rect x="477" y="373.0" width="1" height="5.0" fill="#f24c4c"/>
<rect x="475" y="375.0" width="5" height="3.0" fill="#f24c4c"/>
<rect x="484" y="376.0" width="1" height="5.0" fill="#f24c4c"/>
<rect x="482" y="377.0" width="5" height="1.0" fill="#f24c4c"/>
<rect x="490" y="370.0" width="1" height="17.0" fill="#f24c4c"/>
<rect x="488" y="377.0" width="5" height="2.0" fill="#f24c4c"/>
<rect x="497" y="375.0" width="1" height="7.0" fill="#13b283"/>
<rect x="495" y="377.0" width="5" height="2.0" fill="#13b283"/>
<rect x="504" y="375.0" width="1" height="4.0" fill="#13b283"/>
<rect x="502" y="375.0" width="5" height="3.0" fill="#13b283"/>
<rect x="511" y="371.0" width="1" height="6.0" fill="#13b283"/>
<rect x="509" y="374.0" width="5" height="2.0" fill="#13b283"/>
<rect x="517" y="363.0" width="1" height="12.0" fill="#13b283"/>
<rect x="515" y="364.0" width="5" height="11.0" fill="#13b283"/>
<rect x="524" y="362.0" width="1" height="9.0" fill="#f24c4c"/>
<rect x="522" y="364.0" width="5" height="6.0" fill="#f24c4c"/>
<rect x="531" y="361.0" width="1" height="9.0" fill="#13b283"/>
<rect x="529" y="365.0" width="5" height="5.0" fill="#13b283"/>
<rect x="538" y="362.0" width="1" height="6.0" fill="#f24c4c"/>
<rect x="536" y="365.0" width="5" height="3.0" fill="#f24c4c"/>
<rect x="544" y="359.0" width="1" height="10.0" fill="#13b283"/>
<rect x="542" y="359.0" width="5" height="9.0" fill="#13b283"/>
<rect x="551" y="355.0" width="1" height="15.0" fill="#f24c4c"/>
<rect x="549" y="359.0" width="5" height="11.0" fill="#f24c4c"/>
<rect x="558" y="363.0" width="1" height="7.0" fill="#13b283"/>
<rect x="556" y="364.0" width="5" height="6.0" fill="#13b283"/>
<rect x="565" y="356.0" width="1" height="10.0" fill="#13b283"/>
<rect x="563" y="362.0" width="5" height="2.0" fill="#13b283"/>
<rect x="571" y="324.0" width="1" height="39.0" fill="#13b283"/>
<rect x="569" y="325.0" width="5" height="38.0" fill="#13b283"/>
<rect x="578" y="323.0" width="1" height="20.0" fill="#f24c4c"/>
<rect x="576" y="325.0" width="5" height="15.0" fill="#f24c4c"/>
<rect x="585" y="329.0" width="1" height="13.0" fill="#13b283"/>
<rect x="583" y="332.0" width="5" height="8.0" fill="#13b283"/>
<rect x="592" y="330.0" width="1" height="10.0" fill="#f24c4c"/>
<rect x="590" y="332.0" width="5" height="2.0" fill="#f24c4c"/>
<rect x="599" y="321.0" width="1" height="15.0" fill="#f24c4c"/>
<rect x="597" y="332.0" width="5" height="2.0" fill="#f24c4c"/>
<rect x="605" y="311.0" width="1" height="26.0" fill="#13b283"/>
<rect x="603" y="329.0" width="5" height="5.0" fill="#13b283"/>
<rect x="612" y="306.0" width="1" height="24.0" fill="#13b283"/>
<rect x="610" y="312.0" width="5" height="18.0" fill="#13b283"/>
<rect x="619" y="300.0" width="1" height="16.0" fill="#f24c4c"/>
<rect x="617" y="312.0" width="5" height="3.0" fill="#f24c4c"/>
<rect x="626" y="308.0" width="1" height="12.0" fill="#f24c4c"/>
<rect x="624" y="314.0" width="5" height="1.0" fill="#f24c4c"/>
<rect x="632" y="278.0" width="1" height="39.0" fill="#13b283"/>
<rect x="630" y="284.0" width="5" height="31.0" fill="#13b283"/>
<rect x="639" y="271.0" width="1" height="18.0" fill="#13b283"/>
<rect x="637" y="282.0" width="5" height="2.0" fill="#13b283"/>
<rect x="646" y="262.0" width="1" height="27.0" fill="#13b283"/>
<rect x="644" y="267.0" width="5" height="16.0" fill="#13b283"/>
<rect x="653" y="212.0" width="1" height="64.0" fill="#13b283"/>
<rect x="651" y="223.0" width="5" height="45.0" fill="#13b283"/>
<rect x="659" y="204.0" width="1" height="27.0" fill="#f24c4c"/>
<rect x="657" y="223.0" width="5" height="6.0" fill="#f24c4c"/>
<rect x="666" y="170.0" width="1" height="61.0" fill="#13b283"/>
<rect x="664" y="216.0" width="5" height="13.0" fill="#13b283"/>
<rect x="673" y="200.0" width="1" height="27.0" fill="#f24c4c"/>
<rect x="671" y="216.0" width="5" height="9.0" fill="#f24c4c"/>
<rect x="680" y="213.0" width="1" height="15.0" fill="#13b283"/>
<rect x="678" y="220.0" width="5" height="5.0" fill="#13b283"/>
<rect x="686" y="190.0" width="1" height="36.0" fill="#13b283"/>
<rect x="684" y="196.0" width="5" height="25.0" fill="#13b283"/>
<rect x="693" y="195.0" width="1" height="20.0" fill="#f24c4c"/>
<rect x="691" y="196.0" width="5" height="5.0" fill="#f24c4c"/>
<rect x="700" y="177.0" width="1" height="24.0" fill="#13b283"/>
<rect x="698" y="184.0" width="5" height="17.0" fill="#13b283"/>
<rect x="707" y="172.0" width="1" height="27.0" fill="#f24c4c"/>
<rect x="705" y="184.0" width="5" height="13.0" fill="#f24c4c"/>
<rect x="713" y="192.0" width="1" height="19.0" fill="#f24c4c"/>
<rect x="711" y="196.0" width="5" height="2.0" fill="#f24c4c"/>
<rect x="720" y="194.0" width="1" height="13.0" fill="#f24c4c"/>
<rect x="718" y="197.0" width="5" height="9.0" fill="#f24c4c"/>
<rect x="727" y="190.0" width="1" height="19.0" fill="#13b283"/>
<rect x="725" y="196.0" width="5" height="10.0" fill="#13b283"/>
<rect x="734" y="190.0" width="1" height="14.0" fill="#f24c4c"/>
<rect x="732" y="196.0" width="5" height="6.0" fill="#f24c4c"/>
<rect x="740" y="198.0" width="1" height="25.0" fill="#f24c4c"/>
<rect x="738" y="201.0" width="5" height="2.0" fill="#f24c4c"/>
<rect x="747" y="196.0" width="1" height="11.0" fill="#13b283"/>
<rect x="745" y="201.0" width="5" height="2.0" fill="#13b283"/>
<rect x="754" y="191.0" width="1" height="16.0" fill="#13b283"/>
<rect x="752" y="196.0" width="5" height="6.0" fill="#13b283"/>
<rect x="761" y="191.0" width="1" height="11.0" fill="#f24c4c"/>
<rect x="759" y="196.0" width="5" height="6.0" fill="#f24c4c"/>
<rect x="767" y="193.0" width="1" height="10.0" fill="#13b283"/>
<rect x="765" y="193.0" width="5" height="9.0" fill="#13b283"/>
<rect x="774" y="174.0" width="1" height="25.0" fill="#13b283"/>
<rect x="772" y="181.0" width="5" height="13.0" fill="#13b283"/>
<rect x="781" y="176.0" width="1" height="14.0" fill="#13b283"/>
<rect x="779" y="179.0" width="5" height="3.0" fill="#13b283"/>
<rect x="788" y="178.0" width="1" height="11.0" fill="#f24c4c"/>
<rect x="786" y="179.0" width="5" height="2.0" fill="#f24c4c"/>
<rect x="794" y="153.0" width="1" height="32.0" fill="#13b283"/>
<rect x="792" y="159.0" width="5" height="22.0" fill="#13b283"/>
<rect x="801" y="154.0" width="1" height="50.0" fill="#f24c4c"/>
<rect x="799" y="159.0" width="5" height="31.0" fill="#f24c4c"/>
<rect x="808" y="189.0" width="1" height="14.0" fill="#f24c4c"/>
<rect x="806" y="189.0" width="5" height="10.0" fill="#f24c4c"/>
<rect x="815" y="191.0" width="1" height="9.0" fill="#f24c4c"/>
<rect x="813" y="198.0" width="5" height="2.0" fill="#f24c4c"/>
<rect x="821" y="188.0" width="1" height="14.0" fill="#13b283"/>
<rect x="819" y="188.0" width="5" height="12.0" fill="#13b283"/>
<rect x="828" y="187.0" width="1" height="7.0" fill="#f24c4c"/>
<rect x="826" y="188.0" width="5" height="2.0" fill="#f24c4c"/>
<rect x="835" y="178.0" width="1" height="17.0" fill="#13b283"/>
<rect x="833" y="182.0" width="5" height="8.0" fill="#13b283"/>
<rect x="842" y="176.0" width="1" height="13.0" fill="#f24c4c"/>
<rect x="840" y="182.0" width="5" height="7.0" fill="#f24c4c"/>
<rect x="848" y="172.0" width="1" height="28.0" fill="#13b283"/>
<rect x="846" y="176.0" width="5" height="13.0" fill="#13b283"/>
<rect x="855" y="164.0" width="1" height="39.0" fill="#f24c4c"/>
<rect x="853" y="176.0" width="5" height="20.0" fill="#f24c4c"/>
<rect x="862" y="189.0" width="1" height="29.0" fill="#13b283"/>
<rect x="860" y="192.0" width="5" height="4.0" fill="#13b283"/>
<rect x="869" y="183.0" width="1" height="10.0" fill="#13b283"/>
<rect x="867" y="186.0" width="5" height="7.0" fill="#13b283"/>
<rect x="875" y="178.0" width="1" height="9.0" fill="#13b283"/>
<rect x="873" y="183.0" width="5" height="4.0" fill="#13b283"/>
<rect x="882" y="174.0" width="1" height="10.0" fill="#13b283"/>
<rect x="880" y="176.0" width="5" height="8.0" fill="#13b283"/>
<rect x="889" y="137.0" width="1" height="45.0" fill="#13b283"/>
<rect x="887" y="143.0" width="5" height="34.0" fill="#13b283"/>
<rect x="896" y="122.0" width="1" height="34.0" fill="#13b283"/>
<rect x="894" y="125.0" width="5" height="19.0" fill="#13b283"/>
<rect x="903" y="109.0" width="1" height="28.0" fill="#13b283"/>
<rect x="901" y="119.0" width="5" height="7.0" fill="#13b283"/>
<rect x="909" y="105.0" width="1" height="23.0" fill="#f24c4c"/>
<rect x="907" y="119.0" width="5" height="3.0" fill="#f24c4c"/>
<rect x="916" y="97.0" width="1" height="28.0" fill="#13b283"/>
<rect x="914" y="105.0" width="5" height="18.0" fill="#13b283"/>
<rect x="923" y="101.0" width="1" height="29.0" fill="#f24c4c"/>
<rect x="921" y="105.0" width="5" height="14.0" fill="#f24c4c"/>
<rect x="930" y="114.0" width="1" height="46.0" fill="#f24c4c"/>
<rect x="928" y="118.0" width="5" height="40.0" fill="#f24c4c"/>
<rect x="936" y="151.0" width="1" height="52.0" fill="#f24c4c"/>
<rect x="934" y="157.0" width="5" height="12.0" fill="#f24c4c"/>
<rect x="943" y="165.0" width="1" height="26.0" fill="#f24c4c"/>
<rect x="941" y="168.0" width="5" height="7.0" fill="#f24c4c"/>
<rect x="950" y="158.0" width="1" height="22.0" fill="#13b283"/>
<rect x="948" y="162.0" width="5" height="13.0" fill="#13b283"/>
<rect x="957" y="157.0" width="1" height="18.0" fill="#13b283"/>
<rect x="955" y="161.0" width="5" height="2.0" fill="#13b283"/>
<rect x="963" y="157.0" width="1" height="22.0" fill="#f24c4c"/>
<rect x="961" y="160.0" width="5" height="18.0" fill="#f24c4c"/>
<rect x="970" y="169.0" width="1" height="19.0" fill="#f24c4c"/>
<rect x="968" y="177.0" width="5" height="10.0" fill="#f24c4c"/>
<rect x="977" y="139.0" width="1" height="56.0" fill="#13b283"/>
<rect x="975" y="144.0" width="5" height="43.0" fill="#13b283"/>
<rect x="984" y="121.0" width="1" height="27.0" fill="#13b283"/>
<rect x="982" y="138.0" width="5" height="7.0" fill="#13b283"/>
<rect x="990" y="131.0" width="1" height="18.0" fill="#f24c4c"/>
<rect x="988" y="138.0" width="5" height="4.0" fill="#f24c4c"/>
<rect x="997" y="118.0" width="1" height="36.0" fill="#f24c4c"/>
<rect x="995" y="141.0" width="5" height="4.0" fill="#f24c4c"/>
<rect x="1004" y="137.0" width="1" height="44.0" fill="#f24c4c"/>
<rect x="1002" y="144.0" width="5" height="24.0" fill="#f24c4c"/>
<rect x="1011" y="151.0" width="1" height="25.0" fill="#13b283"/>
<rect x="1009" y="154.0" width="5" height="14.0" fill="#13b283"/>
<rect x="1017" y="131.0" width="1" height="36.0" fill="#13b283"/>
<rect x="1015" y="131.0" width="5" height="24.0" fill="#13b283"/>
<rect x="1024" y="128.0" width="1" height="13.0" fill="#f24c4c"/>
<rect x="1022" y="131.0" width="5" height="3.0" fill="#f24c4c"/>
<rect x="1031" y="119.0" width="1" height="22.0" fill="#13b283"/>
<rect x="1029" y="130.0" width="5" height="4.0" fill="#13b283"/>
<rect x="1038" y="110.0" width="1" height="36.0" fill="#f24c4c"/>
<rect x="1036" y="130.0" width="5" height="9.0" fill="#f24c4c"/>
<rect x="1044" y="124.0" width="1" height="18.0" fill="#13b283"/>
<rect x="1042" y="128.0" width="5" height="11.0" fill="#13b283"/>
<rect x="1051" y="70.0" width="1" height="59.0" fill="#13b283"/>
<rect x="1049" y="88.0" width="5" height="41.0" fill="#13b283"/>
<rect x="1058" y="87.0" width="1" height="23.0" fill="#f24c4c"/>
<rect x="1056" y="88.0" width="5" height="10.0" fill="#f24c4c"/>
<rect x="1065" y="93.0" width="1" height="24.0" fill="#f24c4c"/>
<rect x="1063" y="97.0" width="5" height="9.0" fill="#f24c4c"/>
<rect x="1071" y="94.0" width="1" height="15.0" fill="#13b283"/>
<rect x="1069" y="104.0" width="5" height="2.0" fill="#13b283"/>
<rect x="1078" y="93.0" width="1" height="28.0" fill="#f24c4c"/>
<rect x="1076" y="104.0" width="5" height="12.0" fill="#f24c4c"/>
<rect x="1085" y="102.0" width="1" height="21.0" fill="#13b283"/>
<rect x="1083" y="104.0" width="5" height="12.0" fill="#13b283"/>
<rect x="1092" y="101.0" width="1" height="18.0" fill="#f24c4c"/>
<rect x="1090" y="104.0" width="5" height="11.0" fill="#f24c4c"/>
<rect x="1098" y="96.0" width="1" height="22.0" fill="#13b283"/>
<rect x="1096" y="103.0" width="5" height="12.0" fill="#13b283"/>
<rect x="1105" y="100.0" width="1" height="7.0" fill="#f24c4c"/>
<rect x="1103" y="103.0" width="5" height="2.0" fill="#f24c4c"/>
<rect x="1112" y="96.0" width="1" height="25.0" fill="#f24c4c"/>
<rect x="1110" y="105.0" width="5" height="4.0" fill="#f24c4c"/>
<rect x="1119" y="100.0" width="1" height="20.0" fill="#f24c4c"/>
<rect x="1117" y="108.0" width="5" height="7.0" fill="#f24c4c"/>
<rect x="1125" y="109.0" width="1" height="12.0" fill="#13b283"/>
<rect x="1123" y="110.0" width="5" height="5.0" fill="#13b283"/>
<rect x="1132" y="110.0" width="1" height="43.0" fill="#f24c4c"/>
<rect x="1130" y="110.0" width="5" height="38.0" fill="#f24c4c"/>
<rect x="1139" y="133.0" width="1" height="38.0" fill="#13b283"/>
<rect x="1137" y="137.0" width="5" height="11.0" fill="#13b283"/>
<rect x="1146" y="131.0" width="1" height="11.0" fill="#13b283"/>
<rect x="1144" y="131.0" width="5" height="7.0" fill="#13b283"/>
<rect x="1152" y="115.0" width="1" height="17.0" fill="#13b283"/>
<rect x="1150" y="131.0" width="5" height="1.0" fill="#13b283"/>
<rect x="1159" y="121.0" width="1" height="34.0" fill="#f24c4c"/>
<rect x="1157" y="131.0" width="5" height="19.0" fill="#f24c4c"/>
<rect x="1166" y="142.0" width="1" height="18.0" fill="#13b283"/>
<rect x="1164" y="143.0" width="5" height="7.0" fill="#13b283"/>
<rect x="1173" y="125.0" width="1" height="22.0" fill="#13b283"/>
<rect x="1171" y="133.0" width="5" height="11.0" fill="#13b283"/>
<rect x="1180" y="103.0" width="1" height="37.0" fill="#13b283"/>
<rect x="1178" y="113.0" width="5" height="21.0" fill="#13b283"/>
<rect x="1186" y="105.0" width="1" height="11.0" fill="#13b283"/>
<rect x="1184" y="112.0" width="5" height="2.0" fill="#13b283"/>
<rect x="1193" y="74.0" width="1" height="43.0" fill="#13b283"/>
<rect x="1191" y="79.0" width="5" height="34.0" fill="#13b283"/>
<rect x="1200" y="76.0" width="1" height="38.0" fill="#f24c4c"/>
<rect x="1198" y="79.0" width="5" height="14.0" fill="#f24c4c"/>
<rect x="1207" y="89.0" width="1" height="45.0" fill="#f24c4c"/>
<rect x="1205" y="92.0" width="5" height="35.0" fill="#f24c4c"/>
<rect x="1213" y="108.0" width="1" height="20.0" fill="#13b283"/>
<rect x="1211" y="112.0" width="5" height="15.0" fill="#13b283"/>
<rect x="1220" y="89.0" width="1" height="24.0" fill="#13b283"/>
<rect x="1218" y="91.0" width="5" height="22.0" fill="#13b283"/>
<rect x="1227" y="52.0" width="1" height="41.0" fill="#13b283"/>
<rect x="1225" y="70.0" width="5" height="22.0" fill="#13b283"/>
<rect x="1234" y="65.0" width="1" height="23.0" fill="#f24c4c"/>
<rect x="1232" y="70.0" width="5" height="11.0" fill="#f24c4c"/>
<line x1="17" y1="81.5" x2="1334" y2="81.5" stroke="#f24c4c" stroke-width="1" stroke-dasharray="2 1"/>
<rect x="14" y="598.0" width="6" height="8.0" fill="#ade5d4"/>
<rect x="21" y="599.0" width="6" height="7.0" fill="#fcbcbc"/>
<rect x="28" y="596.0" width="6" height="10.0" fill="#fcbcbc"/>
<rect x="35" y="590.0" width="6" height="16.0" fill="#fcbcbc"/>
<rect x="42" y="585.0" width="6" height="21.0" fill="#ade5d4"/>
<rect x="48" y="581.0" width="6" height="25.0" fill="#fcbcbc"/>
<rect x="55" y="594.0" width="6" height="12.0" fill="#ade5d4"/>
<rect x="62" y="597.0" width="6" height="9.0" fill="#fcbcbc"/>
<rect x="69" y="595.0" width="6" height="11.0" fill="#ade5d4"/>
<rect x="75" y="596.0" width="6" height="10.0" fill="#fcbcbc"/>
<rect x="82" y="593.0" width="6" height="13.0" fill="#ade5d4"/>
<rect x="89" y="596.0" width="6" height="10.0" fill="#ade5d4"/>
<rect x="96" y="601.0" width="6" height="5.0" fill="#ade5d4"/>
<rect x="102" y="599.0" width="6" height="7.0" fill="#fcbcbc"/>
<rect x="109" y="595.0" width="6" height="11.0" fill="#fcbcbc"/>
<rect x="116" y="591.0" width="6" height="15.0" fill="#ade5d4"/>
<rect x="123" y="555.0" width="6" height="51.0" fill="#ade5d4"/>
<rect x="129" y="588.0" width="6" height="18.0" fill="#fcbcbc"/>
<rect x="136" y="598.0" width="6" height="8.0" fill="#ade5d4"/>
<rect x="143" y="593.0" width="6" height="13.0" fill="#fcbcbc"/>
<rect x="150" y="590.0" width="6" height="16.0" fill="#ade5d4"/>
<rect x="156" y="578.0" width="6" height="28.0" fill="#ade5d4"/>
<rect x="163" y="588.0" width="6" height="18.0" fill="#ade5d4"/>
<rect x="170" y="595.0" width="6" height="11.0" fill="#fcbcbc"/>
<rect x="177" y="600.0" width="6" height="6.0" fill="#ade5d4"/>
<rect x="183" y="569.0" width="6" height="37.0" fill="#ade5d4"/>
<rect x="190" y="589.0" width="6" height="17.0" fill="#fcbcbc"/>
<rect x="197" y="591.0" width="6" height="15.0" fill="#fcbcbc"/>
<rect x="204" y="594.0" width="6" height="12.0" fill="#ade5d4"/>
<rect x="210" y="598.0" width="6" height="8.0" fill="#ade5d4"/>
<rect x="217" y="598.0" width="6" height="8.0" fill="#fcbcbc"/>
<rect x="224" y="598.0" width="6" height="8.0" fill="#ade5d4"/>
<rect x="231" y="600.0" width="6" height="6.0" fill="#ade5d4"/>
<rect x="237" y="595.0" width="6" height="11.0" fill="#ade5d4"/>
<rect x="244" y="589.0" width="6" height="17.0" fill="#ade5d4"/>
<rect x="251" y="593.0" width="6" height="13.0" fill="#fcbcbc"/>
<rect x="258" y="595.0" width="6" height="11.0" fill="#ade5d4"/>
<rect x="264" y="596.0" width="6" height="10.0" fill="#ade5d4"/>
<rect x="271" y="594.0" width="6" height="12.0" fill="#fcbcbc"/>
<rect x="278" y="585.0" width="6" height="21.0" fill="#fcbcbc"/>
<rect x="285" y="565.0" width="6" height="41.0" fill="#ade5d4"/>
<rect x="291" y="592.0" width="6" height="14.0" fill="#fcbcbc"/>
<rect x="298" y="582.0" width="6" height="24.0" fill="#fcbcbc"/>
<rect x="305" y="583.0" width="6" height="23.0" fill="#fcbcbc"/>
<rect x="312" y="593.0" width="6" height="13.0" fill="#fcbcbc"/>
<rect x="319" y="588.0" width="6" height="18.0" fill="#ade5d4"/>
<rect x="325" y="574.0" width="6" height="32.0" fill="#fcbcbc"/>
<rect x="332" y="590.0" width="6" height="16.0" fill="#ade5d4"/>
<rect x="339" y="598.0" width="6" height="8.0" fill="#ade5d4"/>
<rect x="346" y="594.0" width="6" height="12.0" fill="#fcbcbc"/>
<rect x="352" y="588.0" width="6" height="18.0" fill="#ade5d4"/>
<rect x="359" y="592.0" width="6" height="14.0" fill="#fcbcbc"/>
<rect x="366" y="568.0" width="6" height="38.0" fill="#fcbcbc"/>
<rect x="373" y="590.0" width="6" height="16.0" fill="#ade5d4"/>
<rect x="379" y="596.0" width="6" height="10.0" fill="#ade5d4"/>
<rect x="386" y="594.0" width="6" height="12.0" fill="#fcbcbc"/>
<rect x="393" y="592.0" width="6" height="14.0" fill="#ade5d4"/>
<rect x="400" y="583.0" width="6" height="23.0" fill="#fcbcbc"/>
<rect x="406" y="582.0" width="6" height="24.0" fill="#ade5d4"/>
<rect x="413" y="577.0" width="6" height="29.0" fill="#ade5d4"/>
<rect x="420" y="589.0" width="6" height="17.0" fill="#fcbcbc"/>
<rect x="427" y="593.0" width="6" height="13.0" fill="#ade5d4"/>
<rect x="433" y="542.0" width="6" height="64.0" fill="#fcbcbc"/>
<rect x="440" y="577.0" width="6" height="29.0" fill="#ade5d4"/>
<rect x="447" y="589.0" width="6" height="17.0" fill="#fcbcbc"/>
<rect x="454" y="595.0" width="6" height="11.0" fill="#fcbcbc"/>
<rect x="460" y="595.0" width="6" height="11.0" fill="#ade5d4"/>
<rect x="467" y="595.0" width="6" height="11.0" fill="#ade5d4"/>
<rect x="474" y="599.0" width="6" height="7.0" fill="#fcbcbc"/>
<rect x="481" y="598.0" width="6" height="8.0" fill="#fcbcbc"/>
<rect x="487" y="592.0" width="6" height="14.0" fill="#fcbcbc"/>
<rect x="494" y="598.0" width="6" height="8.0" fill="#ade5d4"/>
<rect x="501" y="602.0" width="6" height="4.0" fill="#ade5d4"/>
<rect x="508" y="597.0" width="6" height="9.0" fill="#ade5d4"/>
<rect x="514" y="595.0" width="6" height="11.0" fill="#ade5d4"/>
<rect x="521" y="597.0" width="6" height="9.0" fill="#fcbcbc"/>
<rect x="528" y="597.0" width="6" height="9.0" fill="#ade5d4"/>
<rect x="535" y="600.0" width="6" height="6.0" fill="#fcbcbc"/>
<rect x="541" y="599.0" width="6" height="7.0" fill="#ade5d4"/>
<rect x="548" y="595.0" width="6" height="11.0" fill="#fcbcbc"/>
<rect x="555" y="595.0" width="6" height="11.0" fill="#ade5d4"/>
<rect x="562" y="592.0" width="6" height="14.0" fill="#ade5d4"/>
<rect x="568" y="559.0" width="6" height="47.0" fill="#ade5d4"/>
<rect x="575" y="585.0" width="6" height="21.0" fill="#fcbcbc"/>
<rect x="582" y="597.0" width="6" height="9.0" fill="#ade5d4"/>
<rect x="589" y="593.0" width="6" height="13.0" fill="#fcbcbc"/>
<rect x="596" y="580.0" width="6" height="26.0" fill="#fcbcbc"/>
<rect x="602" y="571.0" width="6" height="35.0" fill="#ade5d4"/>
<rect x="609" y="562.0" width="6" height="44.0" fill="#ade5d4"/>
<rect x="616" y="576.0" width="6" height="30.0" fill="#fcbcbc"/>
<rect x="623" y="592.0" width="6" height="14.0" fill="#fcbcbc"/>
<rect x="629" y="563.0" width="6" height="43.0" fill="#ade5d4"/>
<rect x="636" y="574.0" width="6" height="32.0" fill="#ade5d4"/>
<rect x="643" y="575.0" width="6" height="31.0" fill="#ade5d4"/>
<rect x="650" y="520.0" width="6" height="86.0" fill="#ade5d4"/>
<rect x="656" y="561.0" width="6" height="45.0" fill="#fcbcbc"/>
<rect x="663" y="544.0" width="6" height="62.0" fill="#ade5d4"/>
<rect x="670" y="577.0" width="6" height="29.0" fill="#fcbcbc"/>
<rect x="677" y="576.0" width="6" height="30.0" fill="#ade5d4"/>
<rect x="683" y="569.0" width="6" height="37.0" fill="#ade5d4"/>
<rect x="690" y="576.0" width="6" height="30.0" fill="#fcbcbc"/>
<rect x="697" y="571.0" width="6" height="35.0" fill="#ade5d4"/>
<rect x="704" y="580.0" width="6" height="26.0" fill="#fcbcbc"/>
<rect x="710" y="585.0" width="6" height="21.0" fill="#fcbcbc"/>
<rect x="717" y="589.0" width="6" height="17.0" fill="#fcbcbc"/>
<rect x="724" y="585.0" width="6" height="21.0" fill="#ade5d4"/>
<rect x="731" y="586.0" width="6" height="20.0" fill="#fcbcbc"/>
<rect x="737" y="588.0" width="6" height="18.0" fill="#fcbcbc"/>
<rect x="744" y="596.0" width="6" height="10.0" fill="#ade5d4"/>
<rect x="751" y="593.0" width="6" height="13.0" fill="#ade5d4"/>
<rect x="758" y="595.0" width="6" height="11.0" fill="#fcbcbc"/>
<rect x="764" y="593.0" width="6" height="13.0" fill="#ade5d4"/>
<rect x="771" y="575.0" width="6" height="31.0" fill="#ade5d4"/>
<rect x="778" y="593.0" width="6" height="13.0" fill="#ade5d4"/>
<rect x="785" y="598.0" width="6" height="8.0" fill="#fcbcbc"/>
<rect x="791" y="579.0" width="6" height="27.0" fill="#ade5d4"/>
<rect x="798" y="567.0" width="6" height="39.0" fill="#fcbcbc"/>
<rect x="805" y="590.0" width="6" height="16.0" fill="#fcbcbc"/>
<rect x="812" y="594.0" width="6" height="12.0" fill="#fcbcbc"/>
<rect x="818" y="596.0" width="6" height="10.0" fill="#ade5d4"/>
<rect x="825" y="599.0" width="6" height="7.0" fill="#fcbcbc"/>
<rect x="832" y="593.0" width="6" height="13.0" fill="#ade5d4"/>
<rect x="839" y="590.0" width="6" height="16.0" fill="#fcbcbc"/>
<rect x="845" y="584.0" width="6" height="22.0" fill="#ade5d4"/>
<rect x="852" y="569.0" width="6" height="37.0" fill="#fcbcbc"/>
<rect x="859" y="569.0" width="6" height="37.0" fill="#ade5d4"/>
<rect x="866" y="596.0" width="6" height="10.0" fill="#ade5d4"/>
<rect x="872" y="591.0" width="6" height="15.0" fill="#ade5d4"/>
<rect x="879" y="588.0" width="6" height="18.0" fill="#ade5d4"/>
<rect x="886" y="566.0" width="6" height="40.0" fill="#ade5d4"/>
<rect x="893" y="572.0" width="6" height="34.0" fill="#ade5d4"/>
<rect x="900" y="567.0" width="6" height="39.0" fill="#ade5d4"/>
<rect x="906" y="583.0" width="6" height="23.0" fill="#fcbcbc"/>
<rect x="913" y="581.0" width="6" height="25.0" fill="#ade5d4"/>
<rect x="920" y="576.0" width="6" height="30.0" fill="#fcbcbc"/>
<rect x="927" y="565.0" width="6" height="41.0" fill="#fcbcbc"/>
<rect x="933" y="529.0" width="6" height="77.0" fill="#fcbcbc"/>
<rect x="940" y="580.0" width="6" height="26.0" fill="#fcbcbc"/>
<rect x="947" y="593.0" width="6" height="13.0" fill="#ade5d4"/>
<rect x="954" y="586.0" width="6" height="20.0" fill="#ade5d4"/>
<rect x="960" y="587.0" width="6" height="19.0" fill="#fcbcbc"/>
<rect x="967" y="585.0" width="6" height="21.0" fill="#fcbcbc"/>
<rect x="974" y="567.0" width="6" height="39.0" fill="#ade5d4"/>
<rect x="981" y="577.0" width="6" height="29.0" fill="#ade5d4"/>
<rect x="987" y="591.0" width="6" height="15.0" fill="#fcbcbc"/>
<rect x="994" y="577.0" width="6" height="29.0" fill="#fcbcbc"/>
<rect x="1001" y="563.0" width="6" height="43.0" fill="#fcbcbc"/>
<rect x="1008" y="574.0" width="6" height="32.0" fill="#ade5d4"/>
<rect x="1014" y="577.0" width="6" height="29.0" fill="#ade5d4"/>
<rect x="1021" y="590.0" width="6" height="16.0" fill="#fcbcbc"/>
<rect x="1028" y="591.0" width="6" height="15.0" fill="#ade5d4"/>
<rect x="1035" y="580.0" width="6" height="26.0" fill="#fcbcbc"/>
<rect x="1041" y="596.0" width="6" height="10.0" fill="#ade5d4"/>
<rect x="1048" y="525.0" width="6" height="81.0" fill="#ade5d4"/>
<rect x="1055" y="587.0" width="6" height="19.0" fill="#fcbcbc"/>
<rect x="1062" y="591.0" width="6" height="15.0" fill="#fcbcbc"/>
<rect x="1068" y="593.0" width="6" height="13.0" fill="#ade5d4"/>
<rect x="1075" y="589.0" width="6" height="17.0" fill="#fcbcbc"/>
<rect x="1082" y="596.0" width="6" height="10.0" fill="#ade5d4"/>
<rect x="1089" y="592.0" width="6" height="14.0" fill="#fcbcbc"/>
<rect x="1095" y="591.0" width="6" height="15.0" fill="#ade5d4"/>
<rect x="1102" y="600.0" width="6" height="6.0" fill="#fcbcbc"/>
<rect x="1109" y="590.0" width="6" height="16.0" fill="#fcbcbc"/>
<rect x="1116" y="581.0" width="6" height="25.0" fill="#fcbcbc"/>
<rect x="1122" y="592.0" width="6" height="14.0" fill="#ade5d4"/>
<rect x="1129" y="555.0" width="6" height="51.0" fill="#fcbcbc"/>
<rect x="1136" y="568.0" width="6" height="38.0" fill="#ade5d4"/>
<rect x="1143" y="594.0" width="6" height="12.0" fill="#ade5d4"/>
<rect x="1149" y="595.0" width="6" height="11.0" fill="#ade5d4"/>
<rect x="1156" y="580.0" width="6" height="26.0" fill="#fcbcbc"/>
<rect x="1163" y="585.0" width="6" height="21.0" fill="#ade5d4"/>
<rect x="1170" y="585.0" width="6" height="21.0" fill="#ade5d4"/>
<rect x="1177" y="573.0" width="6" height="33.0" fill="#ade5d4"/>
<rect x="1183" y="596.0" width="6" height="10.0" fill="#ade5d4"/>
<rect x="1190" y="577.0" width="6" height="29.0" fill="#ade5d4"/>
<rect x="1197" y="571.0" width="6" height="35.0" fill="#fcbcbc"/>
<rect x="1204" y="577.0" width="6" height="29.0" fill="#fcbcbc"/>
<rect x="1210" y="581.0" width="6" height="25.0" fill="#ade5d4"/>
<rect x="1217" y="584.0" width="6" height="22.0" fill="#ade5d4"/>
<rect x="1224" y="560.0" width="6" height="46.0" fill="#ade5d4"/>
<rect x="1231" y="598.0" width="6" height="8.0" fill="#fcbcbc"/>
<rect x="18" y="684.0" width="1" height="4.0" fill="#f84848"/>
<rect x="25" y="684.2" width="1" height="3.8" fill="#f84848"/>
<rect x="32" y="685.1" width="1" height="2.9" fill="#f84848"/>
<rect x="39" y="686.0" width="1" height="2.0" fill="#f84848"/>
<rect x="46" y="686.2" width="1" height="1.8" fill="#f84848"/>
<rect x="52" y="688.0" width="1" height="1.0" fill="#f84848"/>
<rect x="59" y="688.0" width="1" height="1.3" fill="#f84848"/>
<rect x="66" y="688.0" width="1" height="2.2" fill="#f84848"/>
<rect x="73" y="688.0" width="1" height="2.1" fill="#f84848"/>
<rect x="79" y="688.0" width="1" height="2.3" fill="#f84848"/>
<rect x="86" y="688.0" width="1" height="1.9" fill="#f84848"/>
<rect x="93" y="688.0" width="1" height="1.2" fill="#f84848"/>
<rect x="100" y="688.0" width="1" height="1.0" fill="#f84848"/>
<rect x="106" y="688.0" width="1" height="1.0" fill="#f84848"/>
<rect x="113" y="688.0" width="1" height="1.1" fill="#f84848"/>
<rect x="120" y="688.0" width="1" height="1.1" fill="#f84848"/>
<rect x="127" y="685.8" width="1" height="2.2" fill="#f84848"/>
<rect x="133" y="684.1" width="1" height="3.9" fill="#f84848"/>
<rect x="140" y="682.6" width="1" height="5.4" fill="#f84848"/>
<rect x="147" y="682.5" width="1" height="5.5" fill="#f84848"/>
<rect x="154" y="682.6" width="1" height="5.4" fill="#f84848"/>
<rect x="160" y="681.2" width="1" height="6.8" fill="#f84848"/>
<rect x="167" y="680.4" width="1" height="7.6" fill="#f84848"/>
<rect x="174" y="680.9" width="1" height="7.1" fill="#f84848"/>
<rect x="181" y="681.6" width="1" height="6.4" fill="#f84848"/>
<rect x="187" y="678.3" width="1" height="9.7" fill="#f84848"/>
<rect x="194" y="677.3" width="1" height="10.7" fill="#f84848"/>
<rect x="201" y="678.1" width="1" height="9.9" fill="#f84848"/>
<rect x="208" y="678.9" width="1" height="9.1" fill="#f84848"/>
<rect x="214" y="680.0" width="1" height="8.0" fill="#f84848"/>
<rect x="221" y="682.1" width="1" height="5.9" fill="#f84848"/>
<rect x="228" y="683.5" width="1" height="4.5" fill="#f84848"/>
<rect x="235" y="684.5" width="1" height="3.5" fill="#f84848"/>
<rect x="241" y="685.4" width="1" height="2.6" fill="#f84848"/>
<rect x="248" y="686.0" width="1" height="2.0" fill="#f84848"/>
<rect x="255" y="687.5" width="1" height="1.0" fill="#f84848"/>
<rect x="262" y="688.0" width="1" height="1.0" fill="#f84848"/>
<rect x="268" y="688.0" width="1" height="1.0" fill="#f84848"/>
<rect x="275" y="688.0" width="1" height="1.6" fill="#f84848"/>
<rect x="282" y="688.0" width="1" height="3.7" fill="#f84848"/>
<rect x="289" y="688.0" width="1" height="1.6" fill="#f84848"/>
<rect x="295" y="688.0" width="1" height="1.0" fill="#f84848"/>
<rect x="302" y="688.0" width="1" height="1.0" fill="#f84848"/>
<rect x="309" y="688.0" width="1" height="1.1" fill="#f84848"/>
<rect x="316" y="688.0" width="1" height="1.9" fill="#f84848"/>
<rect x="323" y="688.0" width="1" height="2.1" fill="#f84848"/>
<rect x="329" y="688.0" width="1" height="3.6" fill="#f84848"/>
<rect x="336" y="688.0" width="1" height="4.4" fill="#f84848"/>
<rect x="343" y="688.0" width="1" height="4.5" fill="#f84848"/>
<rect x="350" y="688.0" width="1" height="5.0" fill="#f84848"/>
<rect x="356" y="688.0" width="1" height="4.9" fill="#f84848"/>
<rect x="363" y="688.0" width="1" height="5.4" fill="#f84848"/>
<rect x="370" y="688.0" width="1" height="6.0" fill="#f84848"/>
<rect x="377" y="688.0" width="1" height="5.9" fill="#f84848"/>
<rect x="383" y="688.0" width="1" height="4.9" fill="#f84848"/>
<rect x="390" y="688.0" width="1" height="4.6" fill="#f84848"/>
<rect x="397" y="688.0" width="1" height="4.0" fill="#f84848"/>
<rect x="404" y="688.0" width="1" height="4.5" fill="#f84848"/>
<rect x="410" y="688.0" width="1" height="3.6" fill="#f84848"/>
<rect x="417" y="688.0" width="1" height="1.6" fill="#f84848"/>
<rect x="424" y="688.0" width="1" height="1.0" fill="#f84848"/>
<rect x="431" y="688.0" width="1" height="1.0" fill="#f84848"/>
<rect x="437" y="688.0" width="1" height="1.9" fill="#f84848"/>
<rect x="444" y="688.0" width="1" height="2.4" fill="#f84848"/>
<rect x="451" y="688.0" width="1" height="3.1" fill="#f84848"/>
<rect x="458" y="688.0" width="1" height="3.7" fill="#f84848"/>
<rect x="464" y="688.0" width="1" height="3.8" fill="#f84848"/>
<rect x="471" y="688.0" width="1" height="3.2" fill="#f84848"/>
<rect x="478" y="688.0" width="1" height="3.0" fill="#f84848"/>
<rect x="485" y="688.0" width="1" height="2.7" fill="#f84848"/>
<rect x="491" y="688.0" width="1" height="2.5" fill="#f84848"/>
<rect x="498" y="688.0" width="1" height="2.1" fill="#f84848"/>
<rect x="505" y="688.0" width="1" height="1.6" fill="#f84848"/>
<rect x="512" y="688.0" width="1" height="1.1" fill="#f84848"/>
<rect x="518" y="687.7" width="1" height="1.0" fill="#f84848"/>
<rect x="525" y="687.4" width="1" height="1.0" fill="#f84848"/>
<rect x="532" y="686.9" width="1" height="1.1" fill="#f84848"/>
<rect x="539" y="686.8" width="1" height="1.2" fill="#f84848"/>
<rect x="545" y="686.0" width="1" height="2.0" fill="#f84848"/>
<rect x="552" y="686.7" width="1" height="1.3" fill="#f84848"/>
<rect x="559" y="686.7" width="1" height="1.3" fill="#f84848"/>
<rect x="566" y="686.5" width="1" height="1.5" fill="#f84848"/>
<rect x="572" y="682.8" width="1" height="5.2" fill="#f84848"/>
<rect x="579" y="682.3" width="1" height="5.7" fill="#f84848"/>
<rect x="586" y="681.6" width="1" height="6.4" fill="#f84848"/>
<rect x="593" y="681.7" width="1" height="6.3" fill="#f84848"/>
<rect x="600" y="682.2" width="1" height="5.8" fill="#f84848"/>
<rect x="606" y="682.4" width="1" height="5.6" fill="#f84848"/>
<rect x="613" y="681.3" width="1" height="6.7" fill="#f84848"/>
<rect x="620" y="681.3" width="1" height="6.7" fill="#f84848"/>
<rect x="627" y="681.8" width="1" height="6.2" fill="#f84848"/>
<rect x="633" y="679.5" width="1" height="8.5" fill="#f84848"/>
<rect x="640" y="678.5" width="1" height="9.5" fill="#f84848"/>
<rect x="647" y="677.0" width="1" height="11.0" fill="#f84848"/>
<rect x="654" y="672.4" width="1" height="15.6" fill="#f84848"/>
<rect x="660" y="671.2" width="1" height="16.8" fill="#f84848"/>
<rect x="667" y="670.4" width="1" height="17.6" fill="#f84848"/>
<rect x="674" y="672.0" width="1" height="16.0" fill="#f84848"/>
<rect x="681" y="673.7" width="1" height="14.3" fill="#f84848"/>
<rect x="687" y="673.6" width="1" height="14.4" fill="#f84848"/>
<rect x="694" y="675.1" width="1" height="12.9" fill="#f84848"/>
<rect x="701" y="675.5" width="1" height="12.5" fill="#f84848"/>
<rect x="708" y="678.2" width="1" height="9.8" fill="#f84848"/>
<rect x="714" y="681.0" width="1" height="7.0" fill="#f84848"/>
<rect x="721" y="684.5" width="1" height="3.5" fill="#f84848"/>
<rect x="728" y="686.5" width="1" height="1.5" fill="#f84848"/>
<rect x="735" y="688.0" width="1" height="1.0" fill="#f84848"/>
<rect x="741" y="688.0" width="1" height="3.0" fill="#f84848"/>
<rect x="748" y="688.0" width="1" height="4.5" fill="#f84848"/>
<rect x="755" y="688.0" width="1" height="5.3" fill="#f84848"/>
<rect x="762" y="688.0" width="1" height="6.5" fill="#f84848"/>
<rect x="768" y="688.0" width="1" height="6.6" fill="#f84848"/>
<rect x="775" y="688.0" width="1" height="5.6" fill="#f84848"/>
<rect x="782" y="688.0" width="1" height="4.9" fill="#f84848"/>
<rect x="789" y="688.0" width="1" height="4.9" fill="#f84848"/>
<rect x="795" y="688.0" width="1" height="2.8" fill="#f84848"/>
<rect x="802" y="688.0" width="1" height="5.0" fill="#f84848"/>
<rect x="809" y="688.0" width="1" height="7.4" fill="#f84848"/>
<rect x="816" y="688.0" width="1" height="9.0" fill="#f84848"/>
<rect x="822" y="688.0" width="1" height="8.7" fill="#f84848"/>
<rect x="829" y="688.0" width="1" height="8.7" fill="#f84848"/>
<rect x="836" y="688.0" width="1" height="7.8" fill="#f84848"/>
<rect x="843" y="688.0" width="1" height="7.8" fill="#f84848"/>
<rect x="849" y="688.0" width="1" height="6.5" fill="#f84848"/>
<rect x="856" y="688.0" width="1" height="7.6" fill="#f84848"/>
<rect x="863" y="688.0" width="1" height="7.8" fill="#f84848"/>
<rect x="870" y="688.0" width="1" height="7.2" fill="#f84848"/>
<rect x="876" y="688.0" width="1" height="6.4" fill="#f84848"/>
<rect x="883" y="688.0" width="1" height="5.1" fill="#f84848"/>
<rect x="890" y="688.0" width="1" height="1.0" fill="#f84848"/>
<rect x="897" y="684.6" width="1" height="3.4" fill="#f84848"/>
<rect x="904" y="681.8" width="1" height="6.2" fill="#f84848"/>
<rect x="910" y="680.8" width="1" height="7.2" fill="#f84848"/>
<rect x="917" y="679.2" width="1" height="8.8" fill="#f84848"/>
<rect x="924" y="680.3" width="1" height="7.7" fill="#f84848"/>
<rect x="931" y="685.6" width="1" height="2.4" fill="#f84848"/>
<rect x="937" y="688.0" width="1" height="2.5" fill="#f84848"/>
<rect x="944" y="688.0" width="1" height="6.3" fill="#f84848"/>
<rect x="951" y="688.0" width="1" height="7.4" fill="#f84848"/>
<rect x="958" y="688.0" width="1" height="7.8" fill="#f84848"/>
<rect x="964" y="688.0" width="1" height="9.7" fill="#f84848"/>
<rect x="971" y="688.0" width="1" height="11.5" fill="#f84848"/>
<rect x="978" y="688.0" width="1" height="7.8" fill="#f84848"/>
<rect x="985" y="688.0" width="1" height="4.7" fill="#f84848"/>
<rect x="991" y="688.0" width="1" height="3.1" fill="#f84848"/>
<rect x="998" y="688.0" width="1" height="2.4" fill="#f84848"/>
<rect x="1005" y="688.0" width="1" height="4.4" fill="#f84848"/>
<rect x="1012" y="688.0" width="1" height="4.0" fill="#f84848"/>
<rect x="1018" y="688.0" width="1" height="1.5" fill="#f84848"/>
<rect x="1025" y="688.0" width="1" height="1.0" fill="#f84848"/>
<rect x="1032" y="687.1" width="1" height="1.0" fill="#f84848"/>
<rect x="1039" y="687.6" width="1" height="1.0" fill="#f84848"/>
<rect x="1045" y="686.9" width="1" height="1.1" fill="#f84848"/>
<rect x="1052" y="682.6" width="1" height="5.4" fill="#f84848"/>
<rect x="1059" y="681.4" width="1" height="6.6" fill="#f84848"/>
<rect x="1066" y="682.0" width="1" height="6.0" fill="#f84848"/>
<rect x="1072" y="682.6" width="1" height="5.4" fill="#f84848"/>
<rect x="1079" y="684.7" width="1" height="3.3" fill="#f84848"/>
<rect x="1086" y="685.2" width="1" height="2.8" fill="#f84848"/>
<rect x="1093" y="687.0" width="1" height="1.0" fill="#f84848"/>
<rect x="1099" y="687.2" width="1" height="1.0" fill="#f84848"/>
<rect x="1106" y="687.7" width="1" height="1.0" fill="#f84848"/>
<rect x="1113" y="688.0" width="1" height="1.0" fill="#f84848"/>
<rect x="1120" y="688.0" width="1" height="2.1" fill="#f84848"/>
<rect x="1126" y="688.0" width="1" height="2.6" fill="#f84848"/>
<rect x="1133" y="688.0" width="1" height="6.8" fill="#f84848"/>
<rect x="1140" y="688.0" width="1" height="8.2" fill="#f84848"/>
<rect x="1147" y="688.0" width="1" height="8.2" fill="#f84848"/>
<rect x="1153" y="688.0" width="1" height="7.8" fill="#f84848"/>
<rect x="1160" y="688.0" width="1" height="9.3" fill="#f84848"/>
<rect x="1167" y="688.0" width="1" height="9.2" fill="#f84848"/>
<rect x="1174" y="688.0" width="1" height="7.7" fill="#f84848"/>
<rect x="1181" y="688.0" width="1" height="4.4" fill="#f84848"/>
<rect x="1187" y="688.0" width="1" height="2.1" fill="#f84848"/>
<rect x="1194" y="685.2" width="1" height="2.8" fill="#f84848"/>
<rect x="1201" y="683.8" width="1" height="4.2" fill="#f84848"/>
<rect x="1208" y="686.6" width="1" height="1.4" fill="#f84848"/>
<rect x="1214" y="687.1" width="1" height="1.0" fill="#f84848"/>
<rect x="1221" y="685.3" width="1" height="2.7" fill="#f84848"/>
<rect x="1228" y="682.3" width="1" height="5.7" fill="#f84848"/>
<rect x="1235" y="682.0" width="1" height="6.0" fill="#f84848"/>
<polyline points="18.5,687.2 25.2,686.2 32.0,685.5 38.8,684.9 45.5,684.5 52.3,684.5 59.0,684.9 65.8,685.5 72.5,686.0 79.3,686.6 86.0,687.1 92.8,687.5 99.6,687.6 106.3,687.8 113.1,688.1 119.8,688.4 126.6,687.8 133.3,686.7 140.1,685.3 146.8,683.8 153.6,682.4 160.4,680.6 167.1,678.6 173.9,676.7 180.6,675.0 187.4,672.4 194.1,669.6 200.9,666.9 207.7,664.5 214.4,662.4 221.2,660.8 227.9,659.6 234.7,658.7 241.4,658.0 248.2,657.5 254.9,657.4 261.7,657.4 268.5,657.7 275.2,658.1 282.0,659.1 288.7,659.5 295.5,659.7 302.2,659.8 309.0,660.0 315.7,660.6 322.5,661.1 329.3,662.1 336.0,663.2 342.8,664.4 349.5,665.7 356.3,667.1 363.0,668.5 369.8,670.1 376.6,671.7 383.3,673.0 390.1,674.2 396.8,675.2 403.6,676.4 410.3,677.4 417.1,677.8 423.8,678.0 430.6,678.0 437.4,678.5 444.1,679.1 450.9,679.9 457.6,680.9 464.4,681.9 471.1,682.8 477.9,683.6 484.6,684.3 491.4,685.0 498.2,685.5 504.9,685.9 511.7,686.2 518.4,686.1 525.2,686.0 531.9,685.7 538.7,685.4 545.5,684.9 552.2,684.5 559.0,684.2 565.7,683.8 572.5,682.4 579.2,680.9 586.0,679.2 592.7,677.5 599.5,675.9 606.3,674.4 613.0,672.7 619.8,670.9 626.5,669.2 633.3,666.9 640.0,664.4 646.8,661.5 653.5,657.4 660.3,652.9 667.1,648.2 673.8,644.0 680.6,640.2 687.3,636.3 694.1,632.9 700.8,629.6 707.6,627.0 714.4,625.1 721.1,624.2 727.9,623.8 734.6,624.1 741.4,624.8 748.1,626.0 754.9,627.4 761.6,629.2 768.4,631.0 775.2,632.4 781.9,633.8 788.7,635.1 795.4,635.8 802.2,637.1 808.9,639.1 815.7,641.5 822.4,643.8 829.2,646.1 836.0,648.2 842.7,650.3 849.5,652.0 856.2,654.0 863.0,656.1 869.7,658.0 876.5,659.7 883.3,661.1 890.0,661.3 896.8,660.4 903.5,658.8 910.3,656.9 917.0,654.5 923.8,652.4 930.5,651.8 937.3,652.5 944.1,654.1 950.8,656.1 957.6,658.2 964.3,660.8 971.1,663.8 977.8,665.9 984.6,667.1 991.3,667.9 998.1,668.6 1004.9,669.7 1011.6,670.8 1018.4,671.2 1025.1,671.2 1031.9,671.0 1038.6,670.9 1045.4,670.6 1052.2,669.2 1058.9,667.4 1065.7,665.8 1072.4,664.4 1079.2,663.5 1085.9,662.8 1092.7,662.5 1099.4,662.3 1106.2,662.3 1113.0,662.4 1119.7,663.0 1126.5,663.7 1133.2,665.5 1140.0,667.7 1146.7,669.8 1153.5,671.9 1160.2,674.4 1167.0,676.8 1173.8,678.9 1180.5,680.1 1187.3,680.6 1194.0,679.9 1200.8,678.7 1207.5,678.4 1214.3,678.1 1221.1,677.4 1227.8,675.9 1234.6,674.3" fill="none" stroke="#f23c3c" stroke-width="1" stroke-linejoin="round" />
<polyline points="18.5,683.0 25.2,682.2 32.0,682.4 38.8,682.8 45.5,682.5 52.3,684.9 59.0,686.3 65.8,687.8 72.5,688.3 79.3,689.0 86.0,689.1 92.8,688.8 99.6,688.3 106.3,688.4 113.1,689.2 119.8,689.6 126.6,685.4 133.3,682.5 140.1,679.6 146.8,678.0 153.6,676.6 160.4,673.4 167.1,670.5 173.9,669.2 180.6,668.1 187.4,662.1 194.1,658.2 200.9,656.4 207.7,654.8 214.4,653.8 221.2,654.5 227.9,654.8 234.7,655.0 241.4,655.3 248.2,655.3 254.9,656.9 261.7,657.8 268.5,658.6 275.2,659.8 282.0,663.1 288.7,661.2 295.5,660.3 302.2,660.0 309.0,661.2 315.7,662.6 322.5,663.3 329.3,665.9 336.0,667.9 342.8,669.2 349.5,671.0 356.3,672.3 363.0,674.2 369.8,676.5 376.6,678.0 383.3,678.1 390.1,679.0 396.8,679.5 403.6,681.2 410.3,681.3 417.1,679.5 423.8,678.6 430.6,677.9 437.4,680.5 444.1,681.6 450.9,683.2 457.6,684.8 464.4,685.9 471.1,686.2 477.9,686.7 484.6,687.2 491.4,687.7 498.2,687.8 504.9,687.6 511.7,687.3 518.4,685.8 525.2,685.4 531.9,684.5 538.7,684.1 545.5,682.7 552.2,683.1 559.0,682.7 565.7,682.2 572.5,676.9 579.2,674.8 586.0,672.3 592.7,670.7 599.5,669.7 606.3,668.5 613.0,665.5 619.8,663.7 626.5,662.6 633.3,657.9 640.0,654.3 646.8,649.8 653.5,640.8 660.3,635.1 667.1,629.5 673.8,626.9 680.6,625.0 687.3,621.0 694.1,619.2 700.8,616.3 707.6,616.6 714.4,617.7 721.1,620.5 727.9,622.2 734.6,625.0 741.4,628.0 748.1,630.8 754.9,633.1 761.6,636.2 768.4,638.0 775.2,638.4 781.9,639.0 788.7,640.2 795.4,638.8 802.2,642.4 808.9,646.9 815.7,651.1 822.4,653.1 829.2,655.4 836.0,656.5 842.7,658.6 849.5,658.9 856.2,662.1 863.0,664.4 869.7,665.7 876.5,666.6 883.3,666.5 890.0,662.3 896.8,656.8 903.5,652.1 910.3,649.2 917.0,645.1 923.8,644.2 930.5,649.2 937.3,655.1 944.1,660.8 950.8,664.0 957.6,666.5 964.3,671.0 971.1,676.0 977.8,674.2 984.6,672.1 991.3,671.2 998.1,671.1 1004.9,674.4 1011.6,675.1 1018.4,672.8 1025.1,671.5 1031.9,670.1 1038.6,670.4 1045.4,669.4 1052.2,663.5 1058.9,660.4 1065.7,659.4 1072.4,658.7 1079.2,660.1 1085.9,659.9 1092.7,661.5 1099.4,661.5 1106.2,662.0 1113.0,663.2 1119.7,665.2 1126.5,666.5 1133.2,672.7 1140.0,676.4 1146.7,678.5 1153.5,680.3 1160.2,684.3 1167.0,686.6 1173.8,687.1 1180.5,684.7 1187.3,682.8 1194.0,676.9 1200.8,674.3 1207.5,676.9 1214.3,677.1 1221.1,674.6 1227.8,669.9 1234.6,667.9" fill="none" stroke="#3c3cf0" stroke-width="1" stroke-linejoin="round" />
<rect x="17" y="727.5" width="1316" height="57" fill="rgba(128,0,128,0.25)"/>
<line x1="17" y1="727.5" x2="1333" y2="727.5" stroke="#787878" stroke-dasharray="6 5"/>
<line x1="17" y1="784.5" x2="1333" y2="784.5" stroke="#787878" stroke-dasharray="6 5"/>
<polyline points="18.5,719.8 25.2,720.5 32.0,723.6 38.8,735.1 45.5,739.7 52.3,757.9 59.0,768.9 65.8,786.1 72.5,779.0 79.3,779.6 86.0,773.6 92.8,769.6 99.6,761.0 106.3,760.3 113.1,768.4 119.8,775.6 126.6,760.3 133.3,741.3 140.1,720.8 146.8,722.0 153.6,720.2 160.4,720.7 167.1,716.5 173.9,716.3 180.6,716.8 187.4,718.3 194.1,718.1 200.9,720.8 207.7,722.6 214.4,723.6 221.2,727.4 227.9,730.6 234.7,732.3 241.4,728.2 248.2,724.7 254.9,728.8 261.7,731.0 268.5,733.4 275.2,730.8 282.0,748.1 288.7,744.5 295.5,740.5 302.2,726.8 309.0,739.5 315.7,751.6 322.5,753.9 329.3,758.8 336.0,762.0 342.8,766.2 349.5,765.6 356.3,764.7 363.0,768.2 369.8,772.5 376.6,778.3 383.3,779.3 390.1,780.8 396.8,775.8 403.6,779.2 410.3,770.3 417.1,752.7 423.8,737.6 430.6,731.0 437.4,752.7 444.1,760.4 450.9,771.9 457.6,771.9 464.4,775.8 471.1,773.4 477.9,770.9 484.6,769.5 491.4,772.0 498.2,771.4 504.9,769.4 511.7,766.3 518.4,753.3 525.2,743.9 531.9,729.8 538.7,730.7 545.5,721.1 552.2,731.5 559.0,732.3 565.7,739.3 572.5,725.1 579.2,724.4 586.0,722.2 592.7,727.7 599.5,726.8 606.3,730.8 613.0,728.0 619.8,727.3 626.5,725.3 633.3,724.2 640.0,721.2 646.8,715.7 653.5,716.0 660.3,717.2 667.1,724.2 673.8,731.9 680.6,736.2 687.3,732.8 694.1,728.5 700.8,722.1 707.6,722.7 714.4,722.7 721.1,727.6 727.9,729.0 734.6,731.6 741.4,733.5 748.1,742.6 754.9,747.9 761.6,754.8 768.4,750.7 775.2,742.2 781.9,729.7 788.7,723.1 795.4,720.6 802.2,733.1 808.9,748.5 815.7,766.7 822.4,765.8 829.2,761.7 836.0,757.6 842.7,762.8 849.5,760.4 856.2,770.0 863.0,768.2 869.7,770.1 876.5,758.5 883.3,750.8 890.0,736.9 896.8,723.2 903.5,714.9 910.3,717.2 917.0,718.4 923.8,721.1 930.5,732.3 937.3,748.8 944.1,763.3 950.8,764.4 957.6,764.7 964.3,768.5 971.1,778.2 977.8,773.1 984.6,761.2 991.3,747.9 998.1,748.1 1004.9,757.2 1011.6,760.2 1018.4,752.0 1025.1,736.6 1031.9,725.2 1038.6,730.0 1045.4,730.8 1052.2,730.4 1058.9,726.7 1065.7,729.0 1072.4,734.1 1079.2,740.1 1085.9,740.8 1092.7,743.9 1099.4,740.7 1106.2,742.3 1113.0,745.6 1119.7,754.5 1126.5,759.8 1133.2,773.3 1140.0,775.6 1146.7,775.4 1153.5,761.2 1160.2,763.2 1167.0,767.0 1173.8,767.4 1180.5,751.6 1187.3,738.1 1194.0,724.1 1200.8,723.1 1207.5,733.6 1214.3,744.3 1221.1,743.8 1227.8,731.3 1234.6,727.4" fill="none" stroke="#f03030" stroke-width="1" stroke-linejoin="round" />
<polyline points="18.5,711.6 25.2,721.2 32.0,738.1 38.8,745.9 45.5,735.2 52.3,792.7 59.0,778.9 65.8,786.8 72.5,771.4 79.3,780.8 86.0,768.5 92.8,759.4 99.6,755.0 106.3,766.6 113.1,783.6 119.8,776.4 126.6,720.8 133.3,726.6 140.1,715.0 146.8,724.6 153.6,721.0 160.4,716.5 167.1,711.8 173.9,720.4 180.6,718.0 187.4,716.6 194.1,719.7 200.9,726.1 207.7,722.0 214.4,722.8 221.2,737.6 227.9,731.5 234.7,727.8 241.4,725.4 248.2,720.8 254.9,740.2 261.7,731.9 268.5,728.1 275.2,732.5 282.0,783.6 288.7,717.4 295.5,720.5 302.2,742.6 309.0,755.3 315.7,757.0 322.5,749.5 329.3,769.8 336.0,766.8 342.8,762.1 349.5,767.9 356.3,764.1 363.0,772.6 369.8,780.6 376.6,781.8 383.3,775.6 390.1,785.2 396.8,766.5 403.6,785.8 410.3,758.5 417.1,713.8 423.8,740.5 430.6,738.6 437.4,778.9 444.1,763.8 450.9,773.0 457.6,778.9 464.4,775.6 471.1,765.7 477.9,771.3 484.6,771.6 491.4,773.0 498.2,769.5 504.9,765.7 511.7,763.6 518.4,730.6 525.2,737.6 531.9,721.3 538.7,733.2 545.5,708.8 552.2,752.5 559.0,735.7 565.7,729.7 572.5,709.8 579.2,733.5 586.0,723.3 592.7,726.4 599.5,730.8 606.3,735.3 613.0,717.8 619.8,728.7 626.5,729.2 633.3,714.7 640.0,719.6 646.8,712.9 653.5,715.4 660.3,723.4 667.1,733.7 673.8,738.6 680.6,736.3 687.3,723.4 694.1,725.9 700.8,716.9 707.6,725.3 714.4,725.9 721.1,731.6 727.9,729.5 734.6,733.6 741.4,737.5 748.1,756.6 754.9,749.5 761.6,758.3 768.4,744.1 775.2,724.1 781.9,720.9 788.7,724.2 795.4,716.8 802.2,758.2 808.9,770.4 815.7,771.6 822.4,755.4 829.2,758.2 836.0,759.2 842.7,771.0 849.5,751.2 856.2,787.7 863.0,765.6 869.7,757.1 876.5,752.9 883.3,742.4 890.0,715.5 896.8,711.6 903.5,717.6 910.3,722.6 917.0,715.0 923.8,725.7 930.5,756.1 937.3,764.6 944.1,769.2 950.8,759.5 957.6,765.5 964.3,780.5 971.1,788.6 977.8,750.3 984.6,744.7 991.3,748.5 998.1,751.0 1004.9,772.1 1011.6,757.4 1018.4,726.4 1025.1,726.1 1031.9,723.2 1038.6,740.6 1045.4,728.6 1052.2,722.1 1058.9,729.4 1065.7,735.6 1072.4,737.3 1079.2,747.5 1085.9,737.5 1092.7,746.7 1099.4,737.9 1106.2,742.4 1113.0,756.6 1119.7,764.5 1126.5,758.4 1133.2,796.9 1140.0,771.3 1146.7,758.1 1153.5,754.2 1160.2,777.3 1167.0,769.6 1173.8,755.4 1180.5,729.9 1187.3,728.8 1194.0,713.5 1200.8,727.0 1207.5,760.2 1214.3,745.8 1221.1,725.2 1227.8,722.9 1234.6,734.1" fill="none" stroke="#3030f0" stroke-width="1" stroke-linejoin="round" />
<rect x="17" y="824.5" width="1316" height="41.9" fill="rgba(128,0,128,0.1)"/>
<line x1="17" y1="824.5" x2="1333" y2="824.5" stroke="#787878" stroke-dasharray="6 5"/>
<line x1="17" y1="866.5" x2="1333" y2="866.5" stroke="#787878" stroke-dasharray="6 5"/>
<polyline points="18.5,828.9 25.2,833.6 32.0,840.9 38.8,842.5 45.5,837.9 52.3,854.8 59.0,851.6 65.8,853.4 72.5,848.7 79.3,851.1 86.0,847.4 92.8,844.8 99.6,843.5 106.3,847.1 113.1,851.8 119.8,850.0 126.6,827.7 133.3,830.2 140.1,827.6 146.8,831.8 153.6,830.9 160.4,823.5 167.1,822.1 173.9,827.2 180.6,826.6 187.4,814.9 194.1,817.5 200.9,822.8 207.7,821.5 214.4,821.5 221.2,827.5 227.9,825.8 234.7,824.8 241.4,824.1 248.2,822.6 254.9,830.0 261.7,828.0 268.5,827.1 275.2,828.6 282.0,840.5 288.7,826.4 295.5,827.4 302.2,828.0 309.0,833.5 315.7,834.2 322.5,832.1 329.3,840.5 336.0,839.5 342.8,838.0 349.5,840.5 356.3,839.2 363.0,842.9 369.8,846.2 376.6,843.8 383.3,839.0 390.1,842.5 396.8,840.9 403.6,847.3 410.3,841.2 417.1,834.0 423.8,836.1 430.6,835.7 437.4,849.5 444.1,845.3 450.9,847.7 457.6,849.3 464.4,848.3 471.1,845.2 477.9,846.9 484.6,847.0 491.4,847.5 498.2,846.1 504.9,844.6 511.7,843.7 518.4,836.6 525.2,841.6 531.9,838.3 538.7,840.6 545.5,834.9 552.2,843.6 559.0,839.9 565.7,838.6 572.5,822.6 579.2,832.5 586.0,829.8 592.7,830.7 599.5,831.0 606.3,829.1 613.0,823.4 619.8,825.2 626.5,825.5 633.3,817.0 640.0,816.7 646.8,813.6 653.5,807.8 660.3,811.3 667.1,809.8 673.8,814.9 680.6,814.2 687.3,811.0 694.1,813.6 700.8,811.5 707.6,818.3 714.4,818.8 721.1,823.3 727.9,821.4 734.6,824.2 741.4,824.7 748.1,824.3 754.9,823.1 761.6,826.5 768.4,824.1 775.2,820.9 781.9,820.4 788.7,821.7 795.4,816.5 802.2,834.0 808.9,838.1 815.7,838.5 822.4,834.5 829.2,835.5 836.0,832.9 842.7,836.5 849.5,832.1 856.2,841.5 863.0,840.2 869.7,838.0 876.5,837.0 883.3,834.3 890.0,824.9 896.8,821.2 903.5,820.1 910.3,821.4 917.0,818.2 923.8,825.5 930.5,841.4 937.3,844.9 944.1,846.7 950.8,842.8 957.6,842.4 964.3,848.1 971.1,850.9 977.8,838.0 984.6,836.5 991.3,838.0 998.1,839.0 1004.9,846.8 1011.6,842.4 1018.4,836.5 1025.1,837.5 1031.9,836.5 1038.6,839.7 1045.4,836.7 1052.2,827.7 1058.9,831.3 1065.7,834.2 1072.4,833.8 1079.2,838.2 1085.9,835.1 1092.7,839.1 1099.4,835.9 1106.2,836.6 1113.0,838.1 1119.7,840.7 1126.5,839.1 1133.2,852.1 1140.0,848.4 1146.7,846.3 1153.5,846.2 1160.2,852.3 1167.0,849.9 1173.8,846.1 1180.5,839.6 1187.3,839.3 1194.0,830.5 1200.8,835.8 1207.5,846.5 1214.3,842.5 1221.1,837.4 1227.8,833.0 1234.6,836.5" fill="none" stroke="#a040a0" stroke-width="1" stroke-linejoin="round" />
</g>
<g stroke="#7d8592" stroke-width="1">
<line x1="17" y1="513.5" x2="1397" y2="513.5"/>
<line x1="17" y1="611.5" x2="1397" y2="611.5"/>
<line x1="17" y1="705.5" x2="1397" y2="705.5"/>
<line x1="17" y1="802.5" x2="1397" y2="802.5"/>
<line x1="17" y1="871.5" x2="1334" y2="871.5"/>
<line x1="1334.5" y1="28" x2="1334.5" y2="871.5"/>
<line x1="93.5" y1="871" x2="93.5" y2="875"/>
<line x1="174.5" y1="871" x2="174.5" y2="875"/>
<line x1="255.5" y1="871" x2="255.5" y2="875"/>
<line x1="336.5" y1="871" x2="336.5" y2="875"/>
<line x1="417.5" y1="871" x2="417.5" y2="875"/>
<line x1="498.5" y1="871" x2="498.5" y2="875"/>
<line x1="580.5" y1="871" x2="580.5" y2="875"/>
<line x1="661.5" y1="871" x2="661.5" y2="875"/>
<line x1="742.5" y1="871" x2="742.5" y2="875"/>
<line x1="823.5" y1="871" x2="823.5" y2="875"/>
<line x1="904.5" y1="871" x2="904.5" y2="875"/>
<line x1="985.5" y1="871" x2="985.5" y2="875"/>
<line x1="1066.5" y1="871" x2="1066.5" y2="875"/>
<line x1="1147.5" y1="871" x2="1147.5" y2="875"/>
<line x1="1228.5" y1="871" x2="1228.5" y2="875"/>
<line x1="1309.5" y1="871" x2="1309.5" y2="875"/>
</g>
<g font-size="12" fill="#7c838e">
<line x1="1334" y1="482.5" x2="1338" y2="482.5" stroke="#7d8592"/>
<text x="1341" y="487.0">10400.00</text>
<line x1="1334" y1="437.5" x2="1338" y2="437.5" stroke="#7d8592"/>
<text x="1341" y="442.0">10800.00</text>
<line x1="1334" y1="393.5" x2="1338" y2="393.5" stroke="#7d8592"/>
<text x="1341" y="398.0">11200.00</text>
<line x1="1334" y1="348.5" x2="1338" y2="348.5" stroke="#7d8592"/>
<text x="1341" y="353.0">11600.00</text>
<line x1="1334" y1="304.5" x2="1338" y2="304.5" stroke="#7d8592"/>
<text x="1341" y="309.0">12000.00</text>
<line x1="1334" y1="259.5" x2="1338" y2="259.5" stroke="#7d8592"/>
<text x="1341" y="264.0">12400.00</text>
<line x1="1334" y1="214.5" x2="1338" y2="214.5" stroke="#7d8592"/>
<text x="1341" y="219.0">12800.00</text>
<line x1="1334" y1="170.5" x2="1338" y2="170.5" stroke="#7d8592"/>
<text x="1341" y="175.0">13200.00</text>
<line x1="1334" y1="125.5" x2="1338" y2="125.5" stroke="#7d8592"/>
<text x="1341" y="130.0">13600.00</text>
<line x1="1334" y1="81.5" x2="1338" y2="81.5" stroke="#7d8592"/>
<text x="1341" y="86.0">14000.00</text>
<line x1="1334" y1="36.5" x2="1338" y2="36.5" stroke="#7d8592"/>
<text x="1341" y="41.0">14400.00</text>
<defs><clipPath id="cm"><rect x="1334" y="612" width="67" height="93"/></clipPath></defs>
<line x1="1334" y1="612.5" x2="1338" y2="612.5" stroke="#7d8592"/>
<text x="1341" y="618.2" clip-path="url(#cm)">400.0000</text>
<line x1="1334" y1="522.5" x2="1338" y2="522.5" stroke="#7d8592"/>
<text x="1341" y="527.0">20K</text>
<line x1="1334" y1="563.5" x2="1338" y2="563.5" stroke="#7d8592"/>
<text x="1341" y="568.0">10K</text>
<line x1="1334" y1="605.5" x2="1338" y2="605.5" stroke="#7d8592"/>
<text x="1341" y="610.0">0</text>
<line x1="1334" y1="650.5" x2="1338" y2="650.5" stroke="#7d8592"/>
<text x="1341" y="655.0">200.0000</text>
<line x1="1334" y1="687.5" x2="1338" y2="687.5" stroke="#7d8592"/>
<text x="1341" y="692.0">0.0000</text>
<line x1="1334" y1="727.5" x2="1338" y2="727.5" stroke="#7d8592"/>
<text x="1341" y="732.0">80.0000</text>
<line x1="1334" y1="765.5" x2="1338" y2="765.5" stroke="#7d8592"/>
<text x="1341" y="770.0">40.0000</text>
<line x1="1334" y1="814.5" x2="1338" y2="814.5" stroke="#7d8592"/>
<text x="1341" y="819.0">80.0000</text>
<line x1="1334" y1="855.5" x2="1338" y2="855.5" stroke="#7d8592"/>
<text x="1341" y="860.0">40.0000</text>
<text x="93.2" y="889" font-size="11" text-anchor="middle">8</text>
<text x="174.2" y="889" font-size="11" text-anchor="middle">10</text>
<text x="255.2" y="889" font-size="11" text-anchor="middle">12</text>
<text x="336.2" y="889" font-size="11" text-anchor="middle">14</text>
<text x="417.2" y="889" font-size="11" text-anchor="middle">16</text>
<text x="498.2" y="889" font-size="11" text-anchor="middle">18</text>
<text x="580.2" y="889" font-size="11" text-anchor="middle">20</text>
<text x="661.2" y="889" font-size="11" text-anchor="middle">22</text>
<text x="742.2" y="889" font-size="11" text-anchor="middle">24</text>
<text x="823.2" y="889" font-size="11" text-anchor="middle">26</text>
<text x="904.2" y="889" font-size="11" text-anchor="middle">28</text>
<text x="985.2" y="889" font-size="11" text-anchor="middle">30</text>
<text x="1066.0" y="889" font-size="11" text-anchor="middle" font-weight="bold">11月</text>
<text x="1147.2" y="889" font-size="11" text-anchor="middle">3</text>
<text x="1228.2" y="889" font-size="11" text-anchor="middle">5</text>
<text x="1309.2" y="889" font-size="11" text-anchor="middle">7</text>
</g>
<rect x="1334" y="73" width="57" height="16.8" fill="#f85252"/>
<rect x="1391" y="78" width="1.3" height="6.5" fill="#8a929c"/>
<line x1="1331" y1="81.5" x2="1337" y2="81.5" stroke="#fff" stroke-width="1"/>
<text x="1340.75" y="85" font-size="11.3" fill="#fff" font-weight="400" textLength="44.75" lengthAdjust="spacingAndGlyphs">14000.01</text>
<g>
<rect x="22.5" y="40.5" width="12.5" height="12.3" rx="1.5" fill="none" stroke="#6a6a6a" stroke-width="1"/>
<line x1="24.5" y1="46.5" x2="33" y2="46.5" stroke="#6a6a6a"/>
<text x="41.52" y="51.7" font-size="16" fill="#6d7886" font-weight="400" stroke="#6d7886" stroke-width="0.45" textLength="168.55" lengthAdjust="spacingAndGlyphs">BTC/USDT, 240, Huobi</text>
<path d="M216 45.5 h6.5 l-3.25 3.25 z" fill="#b8bcc2"/>
<text x="236.90" y="52.4" font-size="14" fill="#7b8491" font-weight="400" textLength="15.90" lengthAdjust="spacingAndGlyphs">开</text>
<text x="334.40" y="52.4" font-size="14" fill="#7b8491" font-weight="400" textLength="15.60" lengthAdjust="spacingAndGlyphs">高</text>
<text x="430.90" y="52.4" font-size="14" fill="#7b8491" font-weight="400" textLength="16.50" lengthAdjust="spacingAndGlyphs">低</text>
<text x="528.60" y="52.4" font-size="14" fill="#7b8491" font-weight="400" textLength="15.20" lengthAdjust="spacingAndGlyphs">收</text>
<text x="252.60" y="52.4" font-size="14" fill="#7b8491" font-weight="400" textLength="7.40" lengthAdjust="spacingAndGlyphs">=</text>
<text x="349.60" y="52.4" font-size="14" fill="#7b8491" font-weight="400" textLength="7.40" lengthAdjust="spacingAndGlyphs">=</text>
<text x="446.80" y="52.4" font-size="14" fill="#7b8491" font-weight="400" textLength="7.40" lengthAdjust="spacingAndGlyphs">=</text>
<text x="543.20" y="52.4" font-size="14" fill="#7b8491" font-weight="400" textLength="7.40" lengthAdjust="spacingAndGlyphs">=</text>
<text x="262.50" y="52.4" font-size="14" fill="#f04848" font-weight="400" textLength="61.70" lengthAdjust="spacingAndGlyphs">14100.66</text>
<text x="359.60" y="52.4" font-size="14" fill="#f04848" font-weight="400" textLength="61.70" lengthAdjust="spacingAndGlyphs">14140.20</text>
<text x="457.10" y="52.4" font-size="14" fill="#f04848" font-weight="400" textLength="60.40" lengthAdjust="spacingAndGlyphs">13934.31</text>
<text x="554.20" y="52.4" font-size="14" fill="#f04848" font-weight="400" textLength="60.40" lengthAdjust="spacingAndGlyphs">14000.01</text>
<text x="627.30" y="52.4" font-size="14" fill="#f04848" font-weight="400" textLength="109.50" lengthAdjust="spacingAndGlyphs">−99.06 (−0.70%)</text>
<g opacity="1">
<text x="21.38" y="71" font-size="12" fill="#7b8491" font-weight="400" stroke="#7b8491" stroke-width="0.15" textLength="51.65" lengthAdjust="spacingAndGlyphs">BB (20, 2)</text>
<path d="M79 65 h6.5 l-3.25 3.25 z" fill="#b8bcc2"/>
<rect x="96.4" y="59" width="13.7" height="13.7" fill="rgba(196,196,196,0.72)"/>
<rect x="113" y="59" width="13.7" height="13.7" fill="rgba(196,196,196,0.72)"/>
<path d="M106.99 64.74 L108.22 64.69 L108.22 67.01 L106.99 66.96 L106.68 67.71 L107.58 68.54 L105.94 70.18 L105.11 69.28 L104.36 69.59 L104.41 70.82 L102.09 70.82 L102.14 69.59 L101.39 69.28 L100.56 70.18 L98.92 68.54 L99.82 67.71 L99.51 66.96 L98.28 67.01 L98.28 64.69 L99.51 64.74 L99.82 63.99 L98.92 63.16 L100.56 61.52 L101.39 62.42 L102.14 62.11 L102.09 60.88 L104.41 60.88 L104.36 62.11 L105.11 62.42 L105.94 61.52 L107.58 63.16 L106.68 63.99 Z M105.05 65.85 A1.8 1.8 0 1 0 101.45 65.85 A1.8 1.8 0 1 0 105.05 65.85 Z" fill="#fff" fill-rule="evenodd"/>
<path d="M115.64999999999999 61.64999999999999 L124.05 70.05 M124.05 61.64999999999999 L115.64999999999999 70.05" stroke="#fff" stroke-width="1.8"/>
<text x="134.85" y="71" font-size="12" fill="#ff0000" font-weight="400" stroke="#ff0000" stroke-width="0.1" textLength="57.40" lengthAdjust="spacingAndGlyphs">13701.2975</text>
<text x="202.45" y="71" font-size="12" fill="#0000ff" font-weight="400" stroke="#0000ff" stroke-width="0.1" textLength="58.00" lengthAdjust="spacingAndGlyphs">14107.2319</text>
<text x="271.05" y="71" font-size="12" fill="#000080" font-weight="400" stroke="#000080" stroke-width="0.1" textLength="57.20" lengthAdjust="spacingAndGlyphs">13295.3631</text>
</g>
<g opacity="1">
<text x="21.38" y="91" font-size="12" fill="#7b8491" font-weight="400" stroke="#7b8491" stroke-width="0.15" textLength="85.55" lengthAdjust="spacingAndGlyphs">MA (5, close, 0)</text>
<path d="M112.4 85 h6.5 l-3.25 3.25 z" fill="#b8bcc2"/>
<rect x="130" y="79" width="13.7" height="13.7" fill="rgba(196,196,196,0.72)"/>
<rect x="147.2" y="79" width="13.7" height="13.7" fill="rgba(196,196,196,0.72)"/>
<path d="M140.59 84.74 L141.82 84.69 L141.82 87.01 L140.59 86.96 L140.28 87.71 L141.18 88.54 L139.54 90.18 L138.71 89.28 L137.96 89.59 L138.01 90.82 L135.69 90.82 L135.74 89.59 L134.99 89.28 L134.16 90.18 L132.52 88.54 L133.42 87.71 L133.11 86.96 L131.88 87.01 L131.88 84.69 L133.11 84.74 L133.42 83.99 L132.52 83.16 L134.16 81.52 L134.99 82.42 L135.74 82.11 L135.69 80.88 L138.01 80.88 L137.96 82.11 L138.71 82.42 L139.54 81.52 L141.18 83.16 L140.28 83.99 Z M138.65 85.85 A1.8 1.8 0 1 0 135.05 85.85 A1.8 1.8 0 1 0 138.65 85.85 Z" fill="#fff" fill-rule="evenodd"/>
<path d="M149.85 81.64999999999999 L158.24999999999997 90.05 M158.24999999999997 81.64999999999999 L149.85 90.05" stroke="#fff" stroke-width="1.8"/>
<text x="168.55" y="91" font-size="12" fill="#9063cc" font-weight="400" stroke="#9063cc" stroke-width="0.1" textLength="45.40" lengthAdjust="spacingAndGlyphs">13866.39</text>
</g>
<g opacity="1">
<text x="21.38" y="111" font-size="12" fill="#7b8491" font-weight="400" stroke="#7b8491" stroke-width="0.15" textLength="91.85" lengthAdjust="spacingAndGlyphs">MA (10, close, 0)</text>
<path d="M118.7 105 h6.5 l-3.25 3.25 z" fill="#b8bcc2"/>
<rect x="136" y="99" width="13.7" height="13.7" fill="rgba(196,196,196,0.72)"/>
<rect x="153" y="99" width="13.7" height="13.7" fill="rgba(196,196,196,0.72)"/>
<path d="M146.59 104.74 L147.82 104.69 L147.82 107.01 L146.59 106.96 L146.28 107.71 L147.18 108.54 L145.54 110.18 L144.71 109.28 L143.96 109.59 L144.01 110.82 L141.69 110.82 L141.74 109.59 L140.99 109.28 L140.16 110.18 L138.52 108.54 L139.42 107.71 L139.11 106.96 L137.88 107.01 L137.88 104.69 L139.11 104.74 L139.42 103.99 L138.52 103.16 L140.16 101.52 L140.99 102.42 L141.74 102.11 L141.69 100.88 L144.01 100.88 L143.96 102.11 L144.71 102.42 L145.54 101.52 L147.18 103.16 L146.28 103.99 Z M144.65 105.85 A1.8 1.8 0 1 0 141.05 105.85 A1.8 1.8 0 1 0 144.65 105.85 Z" fill="#fff" fill-rule="evenodd"/>
<path d="M155.65 101.64999999999999 L164.04999999999998 110.05 M164.04999999999998 101.64999999999999 L155.65 110.05" stroke="#fff" stroke-width="1.8"/>
<text x="174.85" y="111" font-size="12" fill="#6fa0da" font-weight="400" stroke="#6fa0da" stroke-width="0.1" textLength="45.50" lengthAdjust="spacingAndGlyphs">13821.12</text>
</g>
<g opacity="1">
<text x="21.38" y="131" font-size="12" fill="#7b8491" font-weight="400" stroke="#7b8491" stroke-width="0.15" textLength="91.85" lengthAdjust="spacingAndGlyphs">MA (30, close, 0)</text>
<path d="M118.7 125 h6.5 l-3.25 3.25 z" fill="#b8bcc2"/>
<rect x="136" y="119" width="13.7" height="13.7" fill="rgba(196,196,196,0.72)"/>
<rect x="153" y="119" width="13.7" height="13.7" fill="rgba(196,196,196,0.72)"/>
<path d="M146.59 124.74 L147.82 124.69 L147.82 127.01 L146.59 126.96 L146.28 127.71 L147.18 128.54 L145.54 130.18 L144.71 129.28 L143.96 129.59 L144.01 130.82 L141.69 130.82 L141.74 129.59 L140.99 129.28 L140.16 130.18 L138.52 128.54 L139.42 127.71 L139.11 126.96 L137.88 127.01 L137.88 124.69 L139.11 124.74 L139.42 123.99 L138.52 123.16 L140.16 121.52 L140.99 122.42 L141.74 122.11 L141.69 120.88 L144.01 120.88 L143.96 122.11 L144.71 122.42 L145.54 121.52 L147.18 123.16 L146.28 123.99 Z M144.65 125.85 A1.8 1.8 0 1 0 141.05 125.85 A1.8 1.8 0 1 0 144.65 125.85 Z" fill="#fff" fill-rule="evenodd"/>
<path d="M155.65 121.64999999999999 L164.04999999999998 130.04999999999998 M164.04999999999998 121.64999999999999 L155.65 130.04999999999998" stroke="#fff" stroke-width="1.8"/>
<text x="174.85" y="131" font-size="12" fill="#4aa84f" font-weight="400" stroke="#4aa84f" stroke-width="0.1" textLength="45.50" lengthAdjust="spacingAndGlyphs">13714.55</text>
</g>
<g opacity="1">
<text x="21.38" y="151" font-size="12" fill="#7b8491" font-weight="400" stroke="#7b8491" stroke-width="0.15" textLength="91.85" lengthAdjust="spacingAndGlyphs">MA (60, close, 0)</text>
<path d="M118.7 145 h6.5 l-3.25 3.25 z" fill="#b8bcc2"/>
<rect x="136" y="139" width="13.7" height="13.7" fill="rgba(196,196,196,0.72)"/>
<rect x="153" y="139" width="13.7" height="13.7" fill="rgba(196,196,196,0.72)"/>
<path d="M146.59 144.74 L147.82 144.69 L147.82 147.01 L146.59 146.96 L146.28 147.71 L147.18 148.54 L145.54 150.18 L144.71 149.28 L143.96 149.59 L144.01 150.82 L141.69 150.82 L141.74 149.59 L140.99 149.28 L140.16 150.18 L138.52 148.54 L139.42 147.71 L139.11 146.96 L137.88 147.01 L137.88 144.69 L139.11 144.74 L139.42 143.99 L138.52 143.16 L140.16 141.52 L140.99 142.42 L141.74 142.11 L141.69 140.88 L144.01 140.88 L143.96 142.11 L144.71 142.42 L145.54 141.52 L147.18 143.16 L146.28 143.99 Z M144.65 145.85 A1.8 1.8 0 1 0 141.05 145.85 A1.8 1.8 0 1 0 144.65 145.85 Z" fill="#fff" fill-rule="evenodd"/>
<path d="M155.65 141.65 L164.04999999999998 150.04999999999998 M164.04999999999998 141.65 L155.65 150.04999999999998" stroke="#fff" stroke-width="1.8"/>
<text x="174.85" y="151" font-size="12" fill="#ad1f85" font-weight="400" stroke="#ad1f85" stroke-width="0.1" textLength="45.50" lengthAdjust="spacingAndGlyphs">13520.42</text>
</g>
<g opacity="1">
<text x="21.38" y="533" font-size="12" fill="#7b8491" font-weight="400" stroke="#7b8491" stroke-width="0.15" textLength="64.25" lengthAdjust="spacingAndGlyphs">Volume (20)</text>
<path d="M91 527 h6.5 l-3.25 3.25 z" fill="#b8bcc2"/>
<rect x="108" y="521" width="13.7" height="13.7" fill="rgba(196,196,196,0.72)"/>
<rect x="125" y="521" width="13.7" height="13.7" fill="rgba(196,196,196,0.72)"/>
<path d="M118.59 526.74 L119.82 526.69 L119.82 529.01 L118.59 528.96 L118.28 529.71 L119.18 530.54 L117.54 532.18 L116.71 531.28 L115.96 531.59 L116.01 532.82 L113.69 532.82 L113.74 531.59 L112.99 531.28 L112.16 532.18 L110.52 530.54 L111.42 529.71 L111.11 528.96 L109.88 529.01 L109.88 526.69 L111.11 526.74 L111.42 525.99 L110.52 525.16 L112.16 523.52 L112.99 524.42 L113.74 524.11 L113.69 522.88 L116.01 522.88 L115.96 524.11 L116.71 524.42 L117.54 523.52 L119.18 525.16 L118.28 525.99 Z M116.65 527.85 A1.8 1.8 0 1 0 113.05 527.85 A1.8 1.8 0 1 0 116.65 527.85 Z" fill="#fff" fill-rule="evenodd"/>
<path d="M127.64999999999999 523.65 L136.04999999999998 532.0500000000001 M136.04999999999998 523.65 L127.64999999999999 532.0500000000001" stroke="#fff" stroke-width="1.8"/>
<text x="146.85" y="533" font-size="12" fill="#f04848" font-weight="400" stroke="#f04848" stroke-width="0.1" textLength="34.80" lengthAdjust="spacingAndGlyphs">1.964K</text>
</g>
<g opacity="1">
<text x="21.38" y="631" font-size="12" fill="#7b8491" font-weight="400" stroke="#7b8491" stroke-width="0.15" textLength="126.35" lengthAdjust="spacingAndGlyphs">MACD (12, 26, close, 9)</text>
<path d="M153.7 625 h6.5 l-3.25 3.25 z" fill="#b8bcc2"/>
<rect x="170" y="619" width="13.7" height="13.7" fill="rgba(196,196,196,0.72)"/>
<rect x="187" y="619" width="13.7" height="13.7" fill="rgba(196,196,196,0.72)"/>
<path d="M180.59 624.74 L181.82 624.69 L181.82 627.01 L180.59 626.96 L180.28 627.71 L181.18 628.54 L179.54 630.18 L178.71 629.28 L177.96 629.59 L178.01 630.82 L175.69 630.82 L175.74 629.59 L174.99 629.28 L174.16 630.18 L172.52 628.54 L173.42 627.71 L173.11 626.96 L171.88 627.01 L171.88 624.69 L173.11 624.74 L173.42 623.99 L172.52 623.16 L174.16 621.52 L174.99 622.42 L175.74 622.11 L175.69 620.88 L178.01 620.88 L177.96 622.11 L178.71 622.42 L179.54 621.52 L181.18 623.16 L180.28 623.99 Z M178.65 625.85 A1.8 1.8 0 1 0 175.05 625.85 A1.8 1.8 0 1 0 178.65 625.85 Z" fill="#fff" fill-rule="evenodd"/>
<path d="M189.65 621.65 L198.04999999999998 630.0500000000001 M198.04999999999998 621.65 L189.65 630.0500000000001" stroke="#fff" stroke-width="1.8"/>
<text x="208.55" y="631" font-size="12" fill="#ff0000" font-weight="400" stroke="#ff0000" stroke-width="0.1" textLength="40.20" lengthAdjust="spacingAndGlyphs">33.9893</text>
<text x="259.45" y="631" font-size="12" fill="#0000ff" font-weight="400" stroke="#0000ff" stroke-width="0.1" textLength="45.30" lengthAdjust="spacingAndGlyphs">104.4939</text>
<text x="314.15" y="631" font-size="12" fill="#ff0000" font-weight="400" stroke="#ff0000" stroke-width="0.1" textLength="40.50" lengthAdjust="spacingAndGlyphs">70.5045</text>
</g>
<g opacity="1">
<text x="21.38" y="725" font-size="12" fill="#7b8491" font-weight="400" stroke="#7b8491" stroke-width="0.15" textLength="84.55" lengthAdjust="spacingAndGlyphs">Stoch (14, 1, 3)</text>
<path d="M110.6 719 h6.5 l-3.25 3.25 z" fill="#b8bcc2"/>
<rect x="128.2" y="713" width="13.7" height="13.7" fill="rgba(196,196,196,0.72)"/>
<rect x="145" y="713" width="13.7" height="13.7" fill="rgba(196,196,196,0.72)"/>
<path d="M138.79 718.74 L140.02 718.69 L140.02 721.01 L138.79 720.96 L138.48 721.71 L139.38 722.54 L137.74 724.18 L136.91 723.28 L136.16 723.59 L136.21 724.82 L133.89 724.82 L133.94 723.59 L133.19 723.28 L132.36 724.18 L130.72 722.54 L131.62 721.71 L131.31 720.96 L130.08 721.01 L130.08 718.69 L131.31 718.74 L131.62 717.99 L130.72 717.16 L132.36 715.52 L133.19 716.42 L133.94 716.11 L133.89 714.88 L136.21 714.88 L136.16 716.11 L136.91 716.42 L137.74 715.52 L139.38 717.16 L138.48 717.99 Z M136.85 719.85 A1.8 1.8 0 1 0 133.25 719.85 A1.8 1.8 0 1 0 136.85 719.85 Z" fill="#fff" fill-rule="evenodd"/>
<path d="M147.65 715.65 L156.04999999999998 724.0500000000001 M156.04999999999998 715.65 L147.65 724.0500000000001" stroke="#fff" stroke-width="1.8"/>
<text x="166.65" y="725" font-size="12" fill="#0000ff" font-weight="400" stroke="#0000ff" stroke-width="0.1" textLength="39.80" lengthAdjust="spacingAndGlyphs">73.6166</text>
<text x="216.35" y="725" font-size="12" fill="#ff0000" font-weight="400" stroke="#ff0000" stroke-width="0.1" textLength="39.90" lengthAdjust="spacingAndGlyphs">80.6617</text>
</g>
<g opacity="1">
<text x="21.38" y="821.6" font-size="12" fill="#7b8491" font-weight="400" stroke="#7b8491" stroke-width="0.15" textLength="39.85" lengthAdjust="spacingAndGlyphs">RSI (14)</text>
<path d="M67 815.6 h6.5 l-3.25 3.25 z" fill="#b8bcc2"/>
<rect x="84.1" y="809.6" width="13.7" height="13.7" fill="rgba(196,196,196,0.72)"/>
<rect x="101.2" y="809.6" width="13.7" height="13.7" fill="rgba(196,196,196,0.72)"/>
<path d="M94.69 815.34 L95.92 815.29 L95.92 817.61 L94.69 817.56 L94.38 818.31 L95.28 819.14 L93.64 820.78 L92.81 819.88 L92.06 820.19 L92.11 821.42 L89.79 821.42 L89.84 820.19 L89.09 819.88 L88.26 820.78 L86.62 819.14 L87.52 818.31 L87.21 817.56 L85.98 817.61 L85.98 815.29 L87.21 815.34 L87.52 814.59 L86.62 813.76 L88.26 812.12 L89.09 813.02 L89.84 812.71 L89.79 811.48 L92.11 811.48 L92.06 812.71 L92.81 813.02 L93.64 812.12 L95.28 813.76 L94.38 814.59 Z M92.75 816.45 A1.8 1.8 0 1 0 89.15 816.45 A1.8 1.8 0 1 0 92.75 816.45 Z" fill="#fff" fill-rule="evenodd"/>
<path d="M103.85 812.25 L112.25 820.6500000000001 M112.25 812.25 L103.85 820.6500000000001" stroke="#fff" stroke-width="1.8"/>
<text x="122.55" y="821.6" font-size="12" fill="#800080" font-weight="400" stroke="#800080" stroke-width="0.1" textLength="39.70" lengthAdjust="spacingAndGlyphs">58.7457</text>
</g>
</g>
<circle cx="46.5" cy="482.5" r="16" fill="#fff" stroke="#e6e8ec" stroke-width="1"/>
<path d="M36.5 489.5 a4.5 4.5 0 0 1 2.5-8 a7 7 0 0 1 12.5-1.5 a5 5 0 0 1 5.5 5 a4.5 4.5 0 0 1 -1.5 4.5 z" fill="#3ea2ea"/>
<path d="M38.5 488.5 l5.5-5 l5 3.5 l5.5-4.5" fill="none" stroke="#fff" stroke-width="1.7"/>
<text x="72.3" y="489.7" font-size="14" fill="none" stroke="#fff" stroke-width="3" stroke-linejoin="round" textLength="136.5" lengthAdjust="spacingAndGlyphs">Chart by TradingView</text>
<text x="72.30" y="489.7" font-size="14" fill="#4aa6ea" font-weight="400" textLength="136.50" lengthAdjust="spacingAndGlyphs">Chart by TradingView</text>
<g stroke="#d6dce3"><line x1="0" y1="324.5" x2="12.5" y2="324.5"/><line x1="12.5" y1="323.0" x2="12.5" y2="326.0"/><line x1="0" y1="409.5" x2="12.5" y2="409.5"/><line x1="12.5" y1="408.0" x2="12.5" y2="411.0"/><line x1="0" y1="566.5" x2="12.5" y2="566.5"/><line x1="12.5" y1="565.0" x2="12.5" y2="568.0"/></g>
<path d="M13 826 l-2.5 3 l2.5 3" fill="none" stroke="#9aa7b5"/>
</svg></body></html>
